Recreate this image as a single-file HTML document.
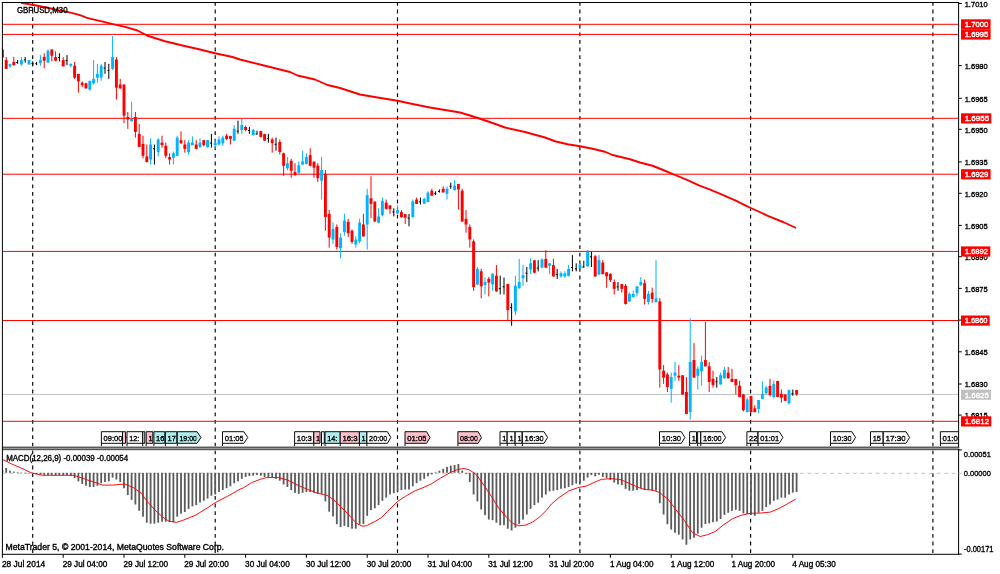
<!DOCTYPE html>
<html><head><meta charset="utf-8"><title>GBPUSD M30</title>
<style>html,body{margin:0;padding:0;background:#fff;}body{width:1000px;height:574px;overflow:hidden;position:relative;font-family:"Liberation Sans",sans-serif;}</style></head>
<body>
<svg width="1000" height="574" viewBox="0 0 1000 574" style="position:absolute;left:0;top:0;will-change:transform">
<rect x="0" y="0" width="1000" height="574" fill="#ffffff"/>
<defs><clipPath id="cm"><rect x="2.4" y="2.4" width="956.2" height="444"/></clipPath><clipPath id="cs"><rect x="2.4" y="449.5" width="956.2" height="104.8"/></clipPath></defs>
<line x1="32.7" y1="2.0" x2="32.7" y2="554" stroke="#000" stroke-width="1.15" stroke-dasharray="3.8 3.8"/>
<line x1="215.2" y1="2.0" x2="215.2" y2="554" stroke="#000" stroke-width="1.15" stroke-dasharray="3.8 3.8"/>
<line x1="397.5" y1="2.0" x2="397.5" y2="554" stroke="#000" stroke-width="1.15" stroke-dasharray="3.8 3.8"/>
<line x1="579.9" y1="2.0" x2="579.9" y2="554" stroke="#000" stroke-width="1.15" stroke-dasharray="3.8 3.8"/>
<line x1="750.6" y1="2.0" x2="750.6" y2="554" stroke="#000" stroke-width="1.15" stroke-dasharray="3.8 3.8"/>
<line x1="932.9" y1="2.0" x2="932.9" y2="554" stroke="#000" stroke-width="1.15" stroke-dasharray="3.8 3.8"/>
<line x1="2.4" y1="394.4" x2="958.6" y2="394.4" stroke="#c0c0c0" stroke-width="1"/>
<line x1="2.4" y1="24.3" x2="958.6" y2="24.3" stroke="#ff0000" stroke-width="1"/>
<line x1="2.4" y1="34.4" x2="958.6" y2="34.4" stroke="#ff0000" stroke-width="1"/>
<line x1="2.4" y1="118.3" x2="958.6" y2="118.3" stroke="#ff0000" stroke-width="1"/>
<line x1="2.4" y1="174.2" x2="958.6" y2="174.2" stroke="#ff0000" stroke-width="1"/>
<line x1="2.4" y1="251.4" x2="958.6" y2="251.4" stroke="#ff0000" stroke-width="1"/>
<line x1="2.4" y1="320.5" x2="958.6" y2="320.5" stroke="#ff0000" stroke-width="1"/>
<line x1="2.4" y1="421.3" x2="958.6" y2="421.3" stroke="#ff0000" stroke-width="1"/>
<path d="M21.00,2.80 L35.10,5.20 L48.90,8.00 L60.00,10.80 L66.30,11.60 L72.50,13.20 L80.70,15.40 L86.30,17.70 L92.00,19.10 L103.90,21.90 L112.70,24.10 L125.00,26.90 L137.50,30.50 L147.50,35.75 L165.00,41.25 L182.50,45.50 L200.00,49.50 L215.00,53.25 L232.50,57.00 L240.00,59.50 L265.00,65.75 L290.00,72.00 L297.50,75.50 L315.00,79.50 L327.50,85.00 L340.00,88.00 L360.00,94.50 L377.50,97.50 L397.50,100.75 L415.00,104.50 L430.00,107.50 L445.00,110.00 L460.00,112.50 L470.00,115.50 L480.00,118.75 L492.50,123.00 L505.00,127.50 L525.00,132.00 L545.00,137.50 L555.00,141.25 L567.50,144.25 L580.00,146.25 L592.50,148.75 L605.00,151.75 L612.50,155.00 L630.00,159.25 L640.00,162.50 L652.50,165.75 L665.00,170.75 L675.00,175.00 L686.40,179.60 L698.90,185.40 L710.20,189.60 L722.60,194.90 L735.30,200.30 L745.30,205.30 L750.80,208.00 L767.90,215.80 L783.60,222.25 L796.10,228.00" fill="none" stroke="#ff0000" stroke-width="1.9" stroke-linejoin="round" clip-path="url(#cm)"/>
<g clip-path="url(#cm)">
<rect x="1.90" y="49.43" width="1" height="8.15" fill="#ff0000"/>
<rect x="0.95" y="49.43" width="2.9" height="8.15" fill="#ff0000"/>
<rect x="5.70" y="56.96" width="1" height="11.91" fill="#ff0000"/>
<rect x="4.75" y="60.09" width="2.9" height="8.78" fill="#ff0000"/>
<rect x="9.50" y="63.60" width="1" height="4.26" fill="#00b4ff"/>
<rect x="8.55" y="64.10" width="2.9" height="2.26" fill="#00b4ff"/>
<rect x="13.30" y="56.96" width="1" height="8.78" fill="#ff0000"/>
<rect x="12.35" y="61.97" width="2.9" height="3.13" fill="#ff0000"/>
<rect x="17.10" y="60.09" width="1" height="3.76" fill="#000000"/>
<rect x="16.15" y="61.97" width="1.9" height="0.95" fill="#000000"/>
<rect x="20.90" y="56.96" width="1" height="8.78" fill="#00b4ff"/>
<rect x="19.95" y="60.09" width="2.9" height="4.39" fill="#00b4ff"/>
<rect x="24.70" y="56.96" width="1" height="5.64" fill="#000000"/>
<rect x="23.75" y="59.46" width="1.9" height="0.95" fill="#000000"/>
<rect x="28.50" y="59.84" width="1" height="4.89" fill="#00b4ff"/>
<rect x="27.55" y="60.09" width="2.9" height="4.39" fill="#00b4ff"/>
<rect x="32.30" y="61.34" width="1" height="3.76" fill="#000000"/>
<rect x="31.35" y="62.85" width="1.9" height="0.95" fill="#000000"/>
<rect x="36.10" y="61.97" width="1" height="3.13" fill="#000000"/>
<rect x="35.15" y="63.22" width="1.9" height="0.95" fill="#000000"/>
<rect x="39.90" y="55.08" width="1" height="10.66" fill="#00b4ff"/>
<rect x="38.95" y="60.09" width="2.9" height="3.13" fill="#00b4ff"/>
<rect x="43.70" y="53.19" width="1" height="15.05" fill="#ff0000"/>
<rect x="42.75" y="56.96" width="2.9" height="3.76" fill="#ff0000"/>
<rect x="47.50" y="49.43" width="1" height="13.16" fill="#00b4ff"/>
<rect x="46.55" y="50.69" width="2.9" height="11.91" fill="#00b4ff"/>
<rect x="51.30" y="49.43" width="1" height="11.91" fill="#ff0000"/>
<rect x="50.35" y="49.43" width="2.9" height="6.27" fill="#ff0000"/>
<rect x="55.10" y="51.31" width="1" height="10.03" fill="#ff0000"/>
<rect x="54.15" y="56.96" width="2.9" height="3.76" fill="#ff0000"/>
<rect x="58.90" y="53.19" width="1" height="8.15" fill="#000000"/>
<rect x="57.95" y="56.96" width="1.9" height="0.95" fill="#000000"/>
<rect x="62.70" y="56.96" width="1" height="9.40" fill="#ff0000"/>
<rect x="61.75" y="60.09" width="2.9" height="6.27" fill="#ff0000"/>
<rect x="66.50" y="55.08" width="1" height="10.03" fill="#000000"/>
<rect x="65.55" y="60.09" width="1.9" height="0.95" fill="#000000"/>
<rect x="70.30" y="63.60" width="1" height="4.01" fill="#00b4ff"/>
<rect x="69.35" y="63.85" width="2.9" height="1.88" fill="#00b4ff"/>
<rect x="74.10" y="61.97" width="1" height="16.93" fill="#ff0000"/>
<rect x="73.15" y="65.73" width="2.9" height="11.91" fill="#ff0000"/>
<rect x="77.90" y="73.88" width="1" height="18.81" fill="#ff0000"/>
<rect x="76.95" y="73.88" width="2.9" height="7.52" fill="#ff0000"/>
<rect x="81.70" y="81.40" width="1" height="5.64" fill="#ff0000"/>
<rect x="80.75" y="82.66" width="2.9" height="2.51" fill="#ff0000"/>
<rect x="85.50" y="82.66" width="1" height="6.27" fill="#ff0000"/>
<rect x="84.55" y="83.28" width="2.9" height="5.02" fill="#ff0000"/>
<rect x="89.30" y="80.78" width="1" height="10.03" fill="#00b4ff"/>
<rect x="88.35" y="80.78" width="2.9" height="8.78" fill="#00b4ff"/>
<rect x="93.10" y="60.09" width="1" height="24.45" fill="#00b4ff"/>
<rect x="92.15" y="78.90" width="2.9" height="4.39" fill="#00b4ff"/>
<rect x="96.90" y="63.85" width="1" height="18.81" fill="#00b4ff"/>
<rect x="95.95" y="73.88" width="2.9" height="3.76" fill="#00b4ff"/>
<rect x="100.70" y="63.85" width="1" height="16.93" fill="#00b4ff"/>
<rect x="99.75" y="65.73" width="2.9" height="11.91" fill="#00b4ff"/>
<rect x="104.50" y="61.97" width="1" height="11.91" fill="#000000"/>
<rect x="103.55" y="67.61" width="1.9" height="0.95" fill="#000000"/>
<rect x="108.30" y="63.85" width="1" height="15.05" fill="#000000"/>
<rect x="107.35" y="69.87" width="1.9" height="0.95" fill="#000000"/>
<rect x="112.10" y="36.02" width="1" height="34.10" fill="#00b4ff"/>
<rect x="111.15" y="56.96" width="2.9" height="11.91" fill="#00b4ff"/>
<rect x="115.90" y="56.96" width="1" height="42.63" fill="#ff0000"/>
<rect x="114.95" y="59.46" width="2.9" height="28.21" fill="#ff0000"/>
<rect x="119.70" y="78.90" width="1" height="10.03" fill="#ff0000"/>
<rect x="118.75" y="84.54" width="2.9" height="3.76" fill="#ff0000"/>
<rect x="123.50" y="84.47" width="1" height="38.74" fill="#ff0000"/>
<rect x="122.55" y="84.47" width="2.9" height="31.22" fill="#ff0000"/>
<rect x="127.30" y="111.93" width="1" height="16.93" fill="#ff0000"/>
<rect x="126.35" y="116.94" width="2.9" height="2.51" fill="#ff0000"/>
<rect x="131.10" y="101.90" width="1" height="19.68" fill="#00b4ff"/>
<rect x="130.15" y="118.82" width="2.9" height="2.51" fill="#00b4ff"/>
<rect x="134.90" y="111.93" width="1" height="25.70" fill="#ff0000"/>
<rect x="133.95" y="116.94" width="2.9" height="15.05" fill="#ff0000"/>
<rect x="138.70" y="123.84" width="1" height="23.19" fill="#ff0000"/>
<rect x="137.75" y="133.87" width="2.9" height="13.16" fill="#ff0000"/>
<rect x="142.50" y="135.75" width="1" height="22.57" fill="#ff0000"/>
<rect x="141.55" y="143.90" width="2.9" height="11.91" fill="#ff0000"/>
<rect x="146.30" y="144.52" width="1" height="17.80" fill="#ff0000"/>
<rect x="145.35" y="156.43" width="2.9" height="5.64" fill="#ff0000"/>
<rect x="150.10" y="138.25" width="1" height="26.33" fill="#00b4ff"/>
<rect x="149.15" y="144.52" width="2.9" height="15.05" fill="#00b4ff"/>
<rect x="153.90" y="144.52" width="1" height="20.06" fill="#000000"/>
<rect x="152.95" y="148.28" width="1.9" height="0.95" fill="#000000"/>
<rect x="157.70" y="138.25" width="1" height="18.18" fill="#00b4ff"/>
<rect x="156.75" y="139.51" width="2.9" height="12.54" fill="#00b4ff"/>
<rect x="161.50" y="135.75" width="1" height="11.91" fill="#ff0000"/>
<rect x="160.55" y="142.64" width="2.9" height="2.51" fill="#ff0000"/>
<rect x="165.30" y="142.64" width="1" height="15.67" fill="#ff0000"/>
<rect x="164.35" y="145.78" width="2.9" height="10.03" fill="#ff0000"/>
<rect x="169.10" y="153.30" width="1" height="11.28" fill="#ff0000"/>
<rect x="168.15" y="157.06" width="2.9" height="2.51" fill="#ff0000"/>
<rect x="172.90" y="151.42" width="1" height="13.16" fill="#00b4ff"/>
<rect x="171.95" y="153.30" width="2.9" height="4.39" fill="#00b4ff"/>
<rect x="176.70" y="135.75" width="1" height="20.31" fill="#00b4ff"/>
<rect x="175.75" y="137.63" width="2.9" height="18.18" fill="#00b4ff"/>
<rect x="180.50" y="131.36" width="1" height="12.54" fill="#ff0000"/>
<rect x="179.55" y="140.14" width="2.9" height="3.13" fill="#ff0000"/>
<rect x="184.30" y="140.14" width="1" height="12.54" fill="#ff0000"/>
<rect x="183.35" y="144.52" width="2.9" height="4.39" fill="#ff0000"/>
<rect x="188.10" y="140.14" width="1" height="14.42" fill="#00b4ff"/>
<rect x="187.15" y="142.64" width="2.9" height="9.40" fill="#00b4ff"/>
<rect x="191.90" y="136.37" width="1" height="9.03" fill="#00b4ff"/>
<rect x="190.95" y="142.64" width="2.9" height="2.51" fill="#00b4ff"/>
<rect x="195.70" y="140.14" width="1" height="9.03" fill="#ff0000"/>
<rect x="194.75" y="144.52" width="2.9" height="4.39" fill="#ff0000"/>
<rect x="199.50" y="138.25" width="1" height="9.40" fill="#00b4ff"/>
<rect x="198.55" y="142.64" width="2.9" height="4.39" fill="#00b4ff"/>
<rect x="203.30" y="139.88" width="1" height="6.52" fill="#ff0000"/>
<rect x="202.35" y="140.14" width="2.9" height="5.02" fill="#ff0000"/>
<rect x="207.10" y="139.88" width="1" height="7.77" fill="#00b4ff"/>
<rect x="206.15" y="140.14" width="2.9" height="6.90" fill="#00b4ff"/>
<rect x="210.90" y="133.87" width="1" height="13.79" fill="#000000"/>
<rect x="209.95" y="142.64" width="1.9" height="0.95" fill="#000000"/>
<rect x="214.70" y="138.88" width="1" height="10.03" fill="#00b4ff"/>
<rect x="213.75" y="142.64" width="2.9" height="2.51" fill="#00b4ff"/>
<rect x="218.50" y="136.37" width="1" height="8.78" fill="#00b4ff"/>
<rect x="217.55" y="139.51" width="2.9" height="5.02" fill="#00b4ff"/>
<rect x="222.30" y="135.75" width="1" height="10.03" fill="#00b4ff"/>
<rect x="221.35" y="137.63" width="2.9" height="5.64" fill="#00b4ff"/>
<rect x="226.10" y="133.87" width="1" height="6.27" fill="#ff0000"/>
<rect x="225.15" y="135.75" width="2.9" height="3.13" fill="#ff0000"/>
<rect x="229.90" y="135.70" width="1" height="8.78" fill="#ff0000"/>
<rect x="228.95" y="136.08" width="2.9" height="2.76" fill="#ff0000"/>
<rect x="233.70" y="125.05" width="1" height="15.92" fill="#00b4ff"/>
<rect x="232.75" y="128.81" width="2.9" height="11.91" fill="#00b4ff"/>
<rect x="237.50" y="120.66" width="1" height="13.16" fill="#000000"/>
<rect x="236.55" y="130.69" width="1.9" height="0.95" fill="#000000"/>
<rect x="241.30" y="118.78" width="1" height="15.05" fill="#00b4ff"/>
<rect x="240.35" y="125.05" width="2.9" height="5.02" fill="#00b4ff"/>
<rect x="245.10" y="125.67" width="1" height="5.64" fill="#ff0000"/>
<rect x="244.15" y="126.93" width="2.9" height="3.13" fill="#ff0000"/>
<rect x="248.90" y="126.93" width="1" height="6.90" fill="#000000"/>
<rect x="247.95" y="130.06" width="1.9" height="0.95" fill="#000000"/>
<rect x="252.70" y="128.81" width="1" height="6.90" fill="#00b4ff"/>
<rect x="251.75" y="130.06" width="2.9" height="5.02" fill="#00b4ff"/>
<rect x="256.50" y="130.69" width="1" height="3.76" fill="#000000"/>
<rect x="255.55" y="133.57" width="1.9" height="0.95" fill="#000000"/>
<rect x="260.30" y="130.69" width="1" height="6.90" fill="#ff0000"/>
<rect x="259.35" y="131.06" width="2.9" height="5.89" fill="#ff0000"/>
<rect x="264.10" y="133.82" width="1" height="7.15" fill="#ff0000"/>
<rect x="263.15" y="134.07" width="2.9" height="6.64" fill="#ff0000"/>
<rect x="267.90" y="133.82" width="1" height="8.78" fill="#000000"/>
<rect x="266.95" y="138.21" width="1.9" height="0.95" fill="#000000"/>
<rect x="271.70" y="137.58" width="1" height="15.05" fill="#ff0000"/>
<rect x="270.75" y="139.46" width="2.9" height="3.76" fill="#ff0000"/>
<rect x="275.50" y="137.58" width="1" height="13.16" fill="#000000"/>
<rect x="274.55" y="143.85" width="1.9" height="0.95" fill="#000000"/>
<rect x="279.30" y="139.46" width="1" height="15.05" fill="#ff0000"/>
<rect x="278.35" y="141.97" width="2.9" height="10.03" fill="#ff0000"/>
<rect x="283.10" y="152.63" width="1" height="23.19" fill="#ff0000"/>
<rect x="282.15" y="153.25" width="2.9" height="12.54" fill="#ff0000"/>
<rect x="286.90" y="157.02" width="1" height="13.16" fill="#00b4ff"/>
<rect x="285.95" y="163.28" width="2.9" height="5.02" fill="#00b4ff"/>
<rect x="290.70" y="158.90" width="1" height="18.81" fill="#ff0000"/>
<rect x="289.75" y="160.78" width="2.9" height="10.03" fill="#ff0000"/>
<rect x="294.50" y="163.28" width="1" height="12.54" fill="#ff0000"/>
<rect x="293.55" y="172.06" width="2.9" height="3.13" fill="#ff0000"/>
<rect x="298.30" y="161.40" width="1" height="12.54" fill="#00b4ff"/>
<rect x="297.35" y="165.17" width="2.9" height="7.52" fill="#00b4ff"/>
<rect x="302.10" y="150.75" width="1" height="14.42" fill="#00b4ff"/>
<rect x="301.15" y="161.40" width="2.9" height="3.13" fill="#00b4ff"/>
<rect x="305.90" y="153.25" width="1" height="11.28" fill="#00b4ff"/>
<rect x="304.95" y="157.02" width="2.9" height="6.90" fill="#00b4ff"/>
<rect x="309.70" y="148.24" width="1" height="18.18" fill="#ff0000"/>
<rect x="308.75" y="155.14" width="2.9" height="10.66" fill="#ff0000"/>
<rect x="313.50" y="161.40" width="1" height="16.30" fill="#ff0000"/>
<rect x="312.55" y="161.65" width="2.9" height="6.02" fill="#ff0000"/>
<rect x="317.30" y="163.15" width="1" height="18.81" fill="#ff0000"/>
<rect x="316.35" y="165.66" width="2.9" height="12.54" fill="#ff0000"/>
<rect x="321.10" y="156.88" width="1" height="42.63" fill="#00b4ff"/>
<rect x="320.15" y="170.05" width="2.9" height="10.66" fill="#00b4ff"/>
<rect x="324.90" y="170.04" width="1" height="60.68" fill="#ff0000"/>
<rect x="323.95" y="173.80" width="2.9" height="43.13" fill="#ff0000"/>
<rect x="328.70" y="210.03" width="1" height="37.61" fill="#ff0000"/>
<rect x="327.75" y="213.79" width="2.9" height="23.82" fill="#ff0000"/>
<rect x="332.50" y="222.57" width="1" height="21.31" fill="#00b4ff"/>
<rect x="331.55" y="228.84" width="2.9" height="10.66" fill="#00b4ff"/>
<rect x="336.30" y="224.45" width="1" height="25.08" fill="#ff0000"/>
<rect x="335.35" y="226.96" width="2.9" height="20.06" fill="#ff0000"/>
<rect x="340.10" y="233.22" width="1" height="25.08" fill="#00b4ff"/>
<rect x="339.15" y="237.61" width="2.9" height="10.66" fill="#00b4ff"/>
<rect x="343.90" y="213.79" width="1" height="21.94" fill="#00b4ff"/>
<rect x="342.95" y="220.69" width="2.9" height="11.28" fill="#00b4ff"/>
<rect x="347.70" y="218.81" width="1" height="18.18" fill="#ff0000"/>
<rect x="346.75" y="221.94" width="2.9" height="11.28" fill="#ff0000"/>
<rect x="351.50" y="229.46" width="1" height="14.42" fill="#ff0000"/>
<rect x="350.55" y="230.72" width="2.9" height="11.28" fill="#ff0000"/>
<rect x="355.30" y="236.36" width="1" height="11.28" fill="#00b4ff"/>
<rect x="354.35" y="239.49" width="2.9" height="5.02" fill="#00b4ff"/>
<rect x="359.10" y="218.81" width="1" height="24.45" fill="#00b4ff"/>
<rect x="358.15" y="222.57" width="2.9" height="18.81" fill="#00b4ff"/>
<rect x="362.90" y="213.79" width="1" height="22.82" fill="#ff0000"/>
<rect x="361.95" y="224.45" width="2.9" height="11.91" fill="#ff0000"/>
<rect x="366.70" y="188.85" width="1" height="60.65" fill="#00b4ff"/>
<rect x="365.75" y="195.12" width="2.9" height="29.46" fill="#00b4ff"/>
<rect x="370.50" y="176.31" width="1" height="42.00" fill="#ff0000"/>
<rect x="369.55" y="198.25" width="2.9" height="5.64" fill="#ff0000"/>
<rect x="374.30" y="201.39" width="1" height="20.69" fill="#ff0000"/>
<rect x="373.35" y="201.64" width="2.9" height="19.81" fill="#ff0000"/>
<rect x="378.10" y="208.28" width="1" height="15.05" fill="#00b4ff"/>
<rect x="377.15" y="216.43" width="2.9" height="6.27" fill="#00b4ff"/>
<rect x="381.90" y="197.63" width="1" height="18.81" fill="#00b4ff"/>
<rect x="380.95" y="200.76" width="2.9" height="14.42" fill="#00b4ff"/>
<rect x="385.70" y="199.51" width="1" height="10.03" fill="#ff0000"/>
<rect x="384.75" y="202.64" width="2.9" height="6.27" fill="#ff0000"/>
<rect x="389.50" y="205.15" width="1" height="8.78" fill="#ff0000"/>
<rect x="388.55" y="205.40" width="2.9" height="3.51" fill="#ff0000"/>
<rect x="393.30" y="208.28" width="1" height="8.15" fill="#000000"/>
<rect x="392.35" y="211.42" width="1.9" height="0.95" fill="#000000"/>
<rect x="397.10" y="205.15" width="1" height="8.78" fill="#00b4ff"/>
<rect x="396.15" y="210.17" width="2.9" height="3.13" fill="#00b4ff"/>
<rect x="400.90" y="210.17" width="1" height="7.52" fill="#ff0000"/>
<rect x="399.95" y="212.05" width="2.9" height="5.02" fill="#ff0000"/>
<rect x="404.70" y="213.93" width="1" height="10.03" fill="#ff0000"/>
<rect x="403.75" y="214.18" width="2.9" height="3.51" fill="#ff0000"/>
<rect x="408.50" y="213.93" width="1" height="12.37" fill="#000000"/>
<rect x="407.55" y="217.69" width="1.9" height="0.95" fill="#000000"/>
<rect x="412.30" y="199.51" width="1" height="18.81" fill="#00b4ff"/>
<rect x="411.35" y="201.39" width="2.9" height="15.67" fill="#00b4ff"/>
<rect x="416.10" y="197.63" width="1" height="6.52" fill="#ff0000"/>
<rect x="415.15" y="199.51" width="2.9" height="4.39" fill="#ff0000"/>
<rect x="419.90" y="197.63" width="1" height="6.90" fill="#000000"/>
<rect x="418.95" y="201.39" width="1.9" height="0.95" fill="#000000"/>
<rect x="423.70" y="197.63" width="1" height="6.27" fill="#00b4ff"/>
<rect x="422.75" y="198.88" width="2.9" height="4.76" fill="#00b4ff"/>
<rect x="427.50" y="191.36" width="1" height="10.91" fill="#00b4ff"/>
<rect x="426.55" y="192.61" width="2.9" height="9.40" fill="#00b4ff"/>
<rect x="431.30" y="188.82" width="1" height="7.15" fill="#ff0000"/>
<rect x="430.35" y="190.70" width="2.9" height="5.02" fill="#ff0000"/>
<rect x="435.10" y="191.33" width="1" height="3.76" fill="#000000"/>
<rect x="434.15" y="193.21" width="1.9" height="0.95" fill="#000000"/>
<rect x="438.90" y="189.45" width="1" height="3.13" fill="#000000"/>
<rect x="437.95" y="190.95" width="1.9" height="0.95" fill="#000000"/>
<rect x="442.70" y="186.31" width="1" height="6.27" fill="#ff0000"/>
<rect x="441.75" y="188.82" width="2.9" height="3.51" fill="#ff0000"/>
<rect x="446.50" y="186.31" width="1" height="13.16" fill="#00b4ff"/>
<rect x="445.55" y="188.82" width="2.9" height="5.02" fill="#00b4ff"/>
<rect x="450.30" y="182.55" width="1" height="6.27" fill="#000000"/>
<rect x="449.35" y="185.69" width="1.9" height="0.95" fill="#000000"/>
<rect x="454.10" y="180.05" width="1" height="10.66" fill="#00b4ff"/>
<rect x="453.15" y="185.69" width="2.9" height="4.39" fill="#00b4ff"/>
<rect x="457.90" y="183.81" width="1" height="25.70" fill="#ff0000"/>
<rect x="456.95" y="184.06" width="2.9" height="5.39" fill="#ff0000"/>
<rect x="461.70" y="188.82" width="1" height="33.22" fill="#ff0000"/>
<rect x="460.75" y="190.70" width="2.9" height="30.72" fill="#ff0000"/>
<rect x="465.50" y="210.14" width="1" height="22.57" fill="#ff0000"/>
<rect x="464.55" y="218.91" width="2.9" height="5.64" fill="#ff0000"/>
<rect x="469.30" y="224.39" width="1" height="23.19" fill="#ff0000"/>
<rect x="468.35" y="226.90" width="2.9" height="12.54" fill="#ff0000"/>
<rect x="473.10" y="239.43" width="1" height="51.40" fill="#ff0000"/>
<rect x="472.15" y="241.31" width="2.9" height="45.76" fill="#ff0000"/>
<rect x="476.90" y="267.02" width="1" height="17.80" fill="#00b4ff"/>
<rect x="475.95" y="268.90" width="2.9" height="15.67" fill="#00b4ff"/>
<rect x="480.70" y="268.76" width="1" height="29.46" fill="#ff0000"/>
<rect x="479.75" y="271.27" width="2.9" height="15.05" fill="#ff0000"/>
<rect x="484.50" y="277.54" width="1" height="16.93" fill="#00b4ff"/>
<rect x="483.55" y="281.93" width="2.9" height="3.13" fill="#00b4ff"/>
<rect x="488.30" y="276.91" width="1" height="19.43" fill="#ff0000"/>
<rect x="487.35" y="278.79" width="2.9" height="3.76" fill="#ff0000"/>
<rect x="492.10" y="273.15" width="1" height="17.55" fill="#00b4ff"/>
<rect x="491.15" y="273.78" width="2.9" height="10.66" fill="#00b4ff"/>
<rect x="495.90" y="265.00" width="1" height="26.96" fill="#ff0000"/>
<rect x="494.95" y="275.66" width="2.9" height="15.67" fill="#ff0000"/>
<rect x="499.70" y="275.66" width="1" height="18.81" fill="#000000"/>
<rect x="498.75" y="288.19" width="1.9" height="0.95" fill="#000000"/>
<rect x="503.50" y="277.54" width="1" height="16.93" fill="#000000"/>
<rect x="502.55" y="286.31" width="1.9" height="0.95" fill="#000000"/>
<rect x="507.30" y="283.81" width="1" height="36.36" fill="#ff0000"/>
<rect x="506.35" y="284.06" width="2.9" height="26.08" fill="#ff0000"/>
<rect x="511.10" y="303.24" width="1" height="22.57" fill="#000000"/>
<rect x="510.15" y="307.00" width="1.9" height="0.95" fill="#000000"/>
<rect x="514.90" y="275.66" width="1" height="39.49" fill="#00b4ff"/>
<rect x="513.95" y="285.69" width="2.9" height="25.70" fill="#00b4ff"/>
<rect x="518.70" y="258.87" width="1" height="29.71" fill="#00b4ff"/>
<rect x="517.75" y="282.06" width="2.9" height="6.27" fill="#00b4ff"/>
<rect x="522.50" y="265.14" width="1" height="20.69" fill="#00b4ff"/>
<rect x="521.55" y="275.17" width="2.9" height="3.13" fill="#00b4ff"/>
<rect x="526.30" y="267.02" width="1" height="15.05" fill="#000000"/>
<rect x="525.35" y="272.66" width="1.9" height="0.95" fill="#000000"/>
<rect x="530.10" y="258.24" width="1" height="15.67" fill="#00b4ff"/>
<rect x="529.15" y="263.25" width="2.9" height="6.27" fill="#00b4ff"/>
<rect x="533.90" y="260.12" width="1" height="13.16" fill="#ff0000"/>
<rect x="532.95" y="260.37" width="2.9" height="12.29" fill="#ff0000"/>
<rect x="537.70" y="260.12" width="1" height="11.28" fill="#000000"/>
<rect x="536.75" y="267.64" width="1.9" height="0.95" fill="#000000"/>
<rect x="541.50" y="258.24" width="1" height="10.03" fill="#00b4ff"/>
<rect x="540.55" y="259.49" width="2.9" height="8.15" fill="#00b4ff"/>
<rect x="545.30" y="250.09" width="1" height="17.80" fill="#ff0000"/>
<rect x="544.35" y="258.87" width="2.9" height="8.78" fill="#ff0000"/>
<rect x="549.10" y="263.25" width="1" height="10.66" fill="#00b4ff"/>
<rect x="548.15" y="263.25" width="2.9" height="2.51" fill="#00b4ff"/>
<rect x="552.90" y="258.87" width="1" height="17.80" fill="#ff0000"/>
<rect x="551.95" y="265.14" width="2.9" height="11.28" fill="#ff0000"/>
<rect x="556.70" y="268.90" width="1" height="10.03" fill="#000000"/>
<rect x="555.75" y="273.91" width="1.9" height="0.95" fill="#000000"/>
<rect x="560.50" y="271.40" width="1" height="6.27" fill="#00b4ff"/>
<rect x="559.55" y="273.28" width="2.9" height="3.13" fill="#00b4ff"/>
<rect x="564.30" y="271.40" width="1" height="6.27" fill="#00b4ff"/>
<rect x="563.35" y="273.28" width="2.9" height="3.13" fill="#00b4ff"/>
<rect x="568.10" y="265.14" width="1" height="11.28" fill="#00b4ff"/>
<rect x="567.15" y="268.90" width="2.9" height="6.90" fill="#00b4ff"/>
<rect x="571.90" y="255.11" width="1" height="16.30" fill="#000000"/>
<rect x="570.95" y="267.02" width="1.9" height="0.95" fill="#000000"/>
<rect x="575.70" y="263.25" width="1" height="8.15" fill="#000000"/>
<rect x="574.75" y="268.27" width="1.9" height="0.95" fill="#000000"/>
<rect x="579.50" y="263.19" width="1" height="5.64" fill="#00b4ff"/>
<rect x="578.55" y="264.45" width="2.9" height="3.76" fill="#00b4ff"/>
<rect x="583.30" y="260.69" width="1" height="6.90" fill="#000000"/>
<rect x="582.35" y="266.58" width="1.9" height="0.95" fill="#000000"/>
<rect x="587.10" y="250.03" width="1" height="16.93" fill="#00b4ff"/>
<rect x="586.15" y="251.91" width="2.9" height="14.42" fill="#00b4ff"/>
<rect x="590.90" y="251.91" width="1" height="15.05" fill="#000000"/>
<rect x="589.95" y="256.30" width="1.9" height="0.95" fill="#000000"/>
<rect x="594.70" y="255.05" width="1" height="21.94" fill="#ff0000"/>
<rect x="593.75" y="256.30" width="2.9" height="20.06" fill="#ff0000"/>
<rect x="598.50" y="255.05" width="1" height="20.06" fill="#00b4ff"/>
<rect x="597.55" y="260.06" width="2.9" height="14.42" fill="#00b4ff"/>
<rect x="602.30" y="260.06" width="1" height="14.42" fill="#ff0000"/>
<rect x="601.35" y="262.57" width="2.9" height="11.53" fill="#ff0000"/>
<rect x="606.10" y="271.97" width="1" height="15.67" fill="#ff0000"/>
<rect x="605.15" y="272.35" width="2.9" height="4.01" fill="#ff0000"/>
<rect x="609.90" y="273.22" width="1" height="8.78" fill="#ff0000"/>
<rect x="608.95" y="273.85" width="2.9" height="6.27" fill="#ff0000"/>
<rect x="613.70" y="279.49" width="1" height="15.05" fill="#ff0000"/>
<rect x="612.75" y="282.00" width="2.9" height="6.90" fill="#ff0000"/>
<rect x="617.50" y="282.00" width="1" height="8.78" fill="#000000"/>
<rect x="616.55" y="286.39" width="1.9" height="0.95" fill="#000000"/>
<rect x="621.30" y="283.88" width="1" height="8.78" fill="#ff0000"/>
<rect x="620.35" y="284.13" width="2.9" height="4.76" fill="#ff0000"/>
<rect x="625.10" y="283.88" width="1" height="20.69" fill="#ff0000"/>
<rect x="624.15" y="285.76" width="2.9" height="18.18" fill="#ff0000"/>
<rect x="628.90" y="292.66" width="1" height="9.40" fill="#00b4ff"/>
<rect x="627.95" y="293.91" width="2.9" height="7.52" fill="#00b4ff"/>
<rect x="632.70" y="290.78" width="1" height="6.52" fill="#00b4ff"/>
<rect x="631.75" y="293.91" width="2.9" height="3.13" fill="#00b4ff"/>
<rect x="636.50" y="285.76" width="1" height="10.66" fill="#00b4ff"/>
<rect x="635.55" y="286.39" width="2.9" height="6.90" fill="#00b4ff"/>
<rect x="640.30" y="276.99" width="1" height="8.78" fill="#00b4ff"/>
<rect x="639.35" y="282.00" width="2.9" height="3.13" fill="#00b4ff"/>
<rect x="644.10" y="279.49" width="1" height="25.08" fill="#ff0000"/>
<rect x="643.15" y="283.25" width="2.9" height="15.67" fill="#ff0000"/>
<rect x="647.90" y="290.78" width="1" height="13.79" fill="#00b4ff"/>
<rect x="646.95" y="293.91" width="2.9" height="8.15" fill="#00b4ff"/>
<rect x="651.70" y="287.64" width="1" height="15.05" fill="#ff0000"/>
<rect x="650.75" y="292.66" width="2.9" height="6.27" fill="#ff0000"/>
<rect x="655.50" y="260.06" width="1" height="42.63" fill="#00b4ff"/>
<rect x="654.55" y="298.30" width="2.9" height="3.76" fill="#00b4ff"/>
<rect x="659.30" y="298.09" width="1" height="89.52" fill="#ff0000"/>
<rect x="658.35" y="301.35" width="2.9" height="68.08" fill="#ff0000"/>
<rect x="663.10" y="365.05" width="1" height="18.81" fill="#ff0000"/>
<rect x="662.15" y="370.69" width="2.9" height="6.90" fill="#ff0000"/>
<rect x="666.90" y="372.57" width="1" height="19.43" fill="#ff0000"/>
<rect x="665.95" y="374.45" width="2.9" height="12.54" fill="#ff0000"/>
<rect x="670.70" y="372.57" width="1" height="30.09" fill="#00b4ff"/>
<rect x="669.75" y="376.96" width="2.9" height="11.91" fill="#00b4ff"/>
<rect x="674.50" y="361.91" width="1" height="18.81" fill="#00b4ff"/>
<rect x="673.55" y="372.57" width="2.9" height="3.13" fill="#00b4ff"/>
<rect x="678.30" y="365.05" width="1" height="15.67" fill="#ff0000"/>
<rect x="677.35" y="375.70" width="2.9" height="1.88" fill="#ff0000"/>
<rect x="682.10" y="375.08" width="1" height="19.68" fill="#ff0000"/>
<rect x="681.15" y="375.33" width="2.9" height="19.18" fill="#ff0000"/>
<rect x="685.90" y="376.96" width="1" height="37.24" fill="#ff0000"/>
<rect x="684.95" y="392.00" width="2.9" height="21.94" fill="#ff0000"/>
<rect x="689.70" y="318.15" width="1" height="101.43" fill="#00b4ff"/>
<rect x="688.75" y="361.91" width="2.9" height="50.15" fill="#00b4ff"/>
<rect x="693.50" y="343.10" width="1" height="34.73" fill="#ff0000"/>
<rect x="692.55" y="360.03" width="2.9" height="17.55" fill="#ff0000"/>
<rect x="697.30" y="366.30" width="1" height="23.19" fill="#00b4ff"/>
<rect x="696.35" y="368.81" width="2.9" height="6.90" fill="#00b4ff"/>
<rect x="701.10" y="355.64" width="1" height="30.09" fill="#00b4ff"/>
<rect x="700.15" y="361.91" width="2.9" height="9.40" fill="#00b4ff"/>
<rect x="704.90" y="321.92" width="1" height="44.63" fill="#ff0000"/>
<rect x="703.95" y="360.03" width="2.9" height="6.27" fill="#ff0000"/>
<rect x="708.70" y="361.91" width="1" height="30.09" fill="#ff0000"/>
<rect x="707.75" y="366.30" width="2.9" height="15.67" fill="#ff0000"/>
<rect x="712.50" y="370.69" width="1" height="16.93" fill="#ff0000"/>
<rect x="711.55" y="378.84" width="2.9" height="6.27" fill="#ff0000"/>
<rect x="716.30" y="376.96" width="1" height="10.66" fill="#000000"/>
<rect x="715.35" y="381.34" width="1.9" height="0.95" fill="#000000"/>
<rect x="720.10" y="372.57" width="1" height="12.16" fill="#00b4ff"/>
<rect x="719.15" y="375.08" width="2.9" height="9.40" fill="#00b4ff"/>
<rect x="723.90" y="366.93" width="1" height="11.91" fill="#00b4ff"/>
<rect x="722.95" y="370.06" width="2.9" height="8.15" fill="#00b4ff"/>
<rect x="727.70" y="366.93" width="1" height="11.91" fill="#ff0000"/>
<rect x="726.75" y="372.57" width="2.9" height="5.64" fill="#ff0000"/>
<rect x="731.50" y="368.81" width="1" height="13.42" fill="#ff0000"/>
<rect x="730.55" y="378.84" width="2.9" height="3.13" fill="#ff0000"/>
<rect x="735.30" y="378.84" width="1" height="15.67" fill="#ff0000"/>
<rect x="734.35" y="379.09" width="2.9" height="6.02" fill="#ff0000"/>
<rect x="739.10" y="380.72" width="1" height="16.55" fill="#ff0000"/>
<rect x="738.15" y="385.73" width="2.9" height="11.28" fill="#ff0000"/>
<rect x="742.90" y="393.88" width="1" height="17.55" fill="#ff0000"/>
<rect x="741.95" y="394.51" width="2.9" height="15.67" fill="#ff0000"/>
<rect x="746.70" y="397.64" width="1" height="14.67" fill="#00b4ff"/>
<rect x="745.75" y="399.52" width="2.9" height="12.54" fill="#00b4ff"/>
<rect x="750.50" y="395.76" width="1" height="16.93" fill="#ff0000"/>
<rect x="749.55" y="396.01" width="2.9" height="16.05" fill="#ff0000"/>
<rect x="754.30" y="405.17" width="1" height="7.15" fill="#ff0000"/>
<rect x="753.35" y="408.30" width="2.9" height="3.76" fill="#ff0000"/>
<rect x="758.10" y="399.90" width="1" height="13.42" fill="#00b4ff"/>
<rect x="757.15" y="400.15" width="2.9" height="8.78" fill="#00b4ff"/>
<rect x="761.90" y="381.34" width="1" height="17.80" fill="#00b4ff"/>
<rect x="760.95" y="393.88" width="2.9" height="5.02" fill="#00b4ff"/>
<rect x="765.70" y="385.73" width="1" height="8.78" fill="#00b4ff"/>
<rect x="764.75" y="387.61" width="2.9" height="5.64" fill="#00b4ff"/>
<rect x="769.50" y="378.84" width="1" height="17.55" fill="#ff0000"/>
<rect x="768.55" y="385.73" width="2.9" height="9.40" fill="#ff0000"/>
<rect x="773.30" y="380.72" width="1" height="17.55" fill="#00b4ff"/>
<rect x="772.35" y="383.85" width="2.9" height="13.16" fill="#00b4ff"/>
<rect x="777.10" y="380.72" width="1" height="16.55" fill="#ff0000"/>
<rect x="776.15" y="380.97" width="2.9" height="16.05" fill="#ff0000"/>
<rect x="780.90" y="389.49" width="1" height="13.16" fill="#ff0000"/>
<rect x="779.95" y="393.88" width="2.9" height="3.76" fill="#ff0000"/>
<rect x="784.70" y="394.26" width="1" height="6.77" fill="#ff0000"/>
<rect x="783.75" y="394.51" width="2.9" height="6.27" fill="#ff0000"/>
<rect x="788.50" y="389.49" width="1" height="15.05" fill="#00b4ff"/>
<rect x="787.55" y="390.12" width="2.9" height="13.16" fill="#00b4ff"/>
<rect x="792.30" y="389.49" width="1" height="6.27" fill="#000000"/>
<rect x="791.35" y="393.25" width="1.9" height="0.95" fill="#000000"/>
<rect x="796.10" y="389.87" width="1" height="5.89" fill="#ff0000"/>
<rect x="795.15" y="390.12" width="2.9" height="4.39" fill="#ff0000"/>
</g>
<g clip-path="url(#cm)">
<polygon points="101.4,431.7 122.5,431.7 126.2,437.5 122.5,443.3 101.4,443.3" fill="#ffffff" stroke="#000" stroke-width="0.95"/>
<line x1="101.4" y1="443.3" x2="101.4" y2="446.5" stroke="#000" stroke-width="0.95"/>
<clipPath id="fc0"><rect x="101.4" y="431.7" width="20.60" height="11.600000000000023"/></clipPath>
<text x="103.60" y="440.6" font-family="Liberation Sans, sans-serif" stroke="#000" stroke-width="0.35" font-size="7.9" textLength="18.80" lengthAdjust="spacingAndGlyphs" fill="#000" clip-path="url(#fc0)">09:00</text>
<polygon points="122.5,431.7 125.6,431.7 125.6,443.3 122.5,443.3" fill="#ffc0cb" stroke="#000" stroke-width="0.95"/>
<line x1="122.5" y1="443.3" x2="122.5" y2="446.5" stroke="#000" stroke-width="0.95"/>
<polygon points="127,431.7 142.6,431.7 142.6,443.3 127,443.3" fill="#ffffff" stroke="#000" stroke-width="0.95"/>
<line x1="127" y1="443.3" x2="127" y2="446.5" stroke="#000" stroke-width="0.95"/>
<clipPath id="fc2"><rect x="127" y="431.7" width="15.10" height="11.600000000000023"/></clipPath>
<text x="129.20" y="440.6" font-family="Liberation Sans, sans-serif" stroke="#000" stroke-width="0.35" font-size="7.9" textLength="10.20" lengthAdjust="spacingAndGlyphs" fill="#000" clip-path="url(#fc2)">12:</text>
<polygon points="142.7,431.7 144.8,431.7 144.8,443.3 142.7,443.3" fill="#afeeee" stroke="#000" stroke-width="0.95"/>
<line x1="142.7" y1="443.3" x2="142.7" y2="446.5" stroke="#000" stroke-width="0.95"/>
<polygon points="146.2,431.7 152.8,431.7 152.8,443.3 146.2,443.3" fill="#ffc0cb" stroke="#000" stroke-width="0.95"/>
<line x1="146.2" y1="443.3" x2="146.2" y2="446.5" stroke="#000" stroke-width="0.95"/>
<clipPath id="fc4"><rect x="146.2" y="431.7" width="6.10" height="11.600000000000023"/></clipPath>
<text x="148.40" y="440.6" font-family="Liberation Sans, sans-serif" stroke="#000" stroke-width="0.35" font-size="7.9" textLength="4.15" lengthAdjust="spacingAndGlyphs" fill="#000" clip-path="url(#fc4)">1</text>
<polygon points="153.9,431.7 164.8,431.7 164.8,443.3 153.9,443.3" fill="#afeeee" stroke="#000" stroke-width="0.95"/>
<line x1="153.9" y1="443.3" x2="153.9" y2="446.5" stroke="#000" stroke-width="0.95"/>
<clipPath id="fc5"><rect x="153.9" y="431.7" width="10.40" height="11.600000000000023"/></clipPath>
<text x="156.10" y="440.6" font-family="Liberation Sans, sans-serif" stroke="#000" stroke-width="0.35" font-size="7.9" textLength="8.30" lengthAdjust="spacingAndGlyphs" fill="#000" clip-path="url(#fc5)">16</text>
<polygon points="165.4,431.7 176.8,431.7 176.8,443.3 165.4,443.3" fill="#afeeee" stroke="#000" stroke-width="0.95"/>
<line x1="165.4" y1="443.3" x2="165.4" y2="446.5" stroke="#000" stroke-width="0.95"/>
<clipPath id="fc6"><rect x="165.4" y="431.7" width="10.90" height="11.600000000000023"/></clipPath>
<text x="167.60" y="440.6" font-family="Liberation Sans, sans-serif" stroke="#000" stroke-width="0.35" font-size="7.9" textLength="8.30" lengthAdjust="spacingAndGlyphs" fill="#000" clip-path="url(#fc6)">17</text>
<polygon points="177.3,431.7 197,431.7 201,437.5 197,443.3 177.3,443.3" fill="#afeeee" stroke="#000" stroke-width="0.95"/>
<line x1="177.3" y1="443.3" x2="177.3" y2="446.5" stroke="#000" stroke-width="0.95"/>
<clipPath id="fc7"><rect x="177.3" y="431.7" width="19.20" height="11.600000000000023"/></clipPath>
<text x="179.50" y="440.6" font-family="Liberation Sans, sans-serif" stroke="#000" stroke-width="0.35" font-size="7.9" textLength="17.40" lengthAdjust="spacingAndGlyphs" fill="#000" clip-path="url(#fc7)">19:00</text>
<polygon points="222.5,431.7 243.8,431.7 247.8,437.5 243.8,443.3 222.5,443.3" fill="#ffffff" stroke="#000" stroke-width="0.95"/>
<line x1="222.5" y1="443.3" x2="222.5" y2="446.5" stroke="#000" stroke-width="0.95"/>
<clipPath id="fc8"><rect x="222.5" y="431.7" width="20.80" height="11.600000000000023"/></clipPath>
<text x="224.70" y="440.6" font-family="Liberation Sans, sans-serif" stroke="#000" stroke-width="0.35" font-size="7.9" textLength="19.00" lengthAdjust="spacingAndGlyphs" fill="#000" clip-path="url(#fc8)">01:05</text>
<polygon points="294.6,431.7 313.6,431.7 313.6,443.3 294.6,443.3" fill="#ffffff" stroke="#000" stroke-width="0.95"/>
<line x1="294.6" y1="443.3" x2="294.6" y2="446.5" stroke="#000" stroke-width="0.95"/>
<clipPath id="fc9"><rect x="294.6" y="431.7" width="18.50" height="11.600000000000023"/></clipPath>
<text x="296.80" y="440.6" font-family="Liberation Sans, sans-serif" stroke="#000" stroke-width="0.35" font-size="7.9" textLength="15.15" lengthAdjust="spacingAndGlyphs" fill="#000" clip-path="url(#fc9)">10:3</text>
<polygon points="313.8,431.7 320,431.7 320,443.3 313.8,443.3" fill="#ffc0cb" stroke="#000" stroke-width="0.95"/>
<line x1="313.8" y1="443.3" x2="313.8" y2="446.5" stroke="#000" stroke-width="0.95"/>
<clipPath id="fc10"><rect x="313.8" y="431.7" width="5.70" height="11.600000000000023"/></clipPath>
<text x="316.00" y="440.6" font-family="Liberation Sans, sans-serif" stroke="#000" stroke-width="0.35" font-size="7.9" textLength="4.15" lengthAdjust="spacingAndGlyphs" fill="#000" clip-path="url(#fc10)">1</text>
<polygon points="321.5,431.7 324.3,431.7 324.3,443.3 321.5,443.3" fill="#ffffff" stroke="#000" stroke-width="0.95"/>
<line x1="321.5" y1="443.3" x2="321.5" y2="446.5" stroke="#000" stroke-width="0.95"/>
<polygon points="325,431.7 340.2,431.7 340.2,443.3 325,443.3" fill="#afeeee" stroke="#000" stroke-width="0.95"/>
<line x1="325" y1="443.3" x2="325" y2="446.5" stroke="#000" stroke-width="0.95"/>
<clipPath id="fc12"><rect x="325" y="431.7" width="14.70" height="11.600000000000023"/></clipPath>
<text x="327.20" y="440.6" font-family="Liberation Sans, sans-serif" stroke="#000" stroke-width="0.35" font-size="7.9" textLength="10.20" lengthAdjust="spacingAndGlyphs" fill="#000" clip-path="url(#fc12)">14:</text>
<polygon points="340.2,431.7 359.4,431.7 359.4,443.3 340.2,443.3" fill="#ffc0cb" stroke="#000" stroke-width="0.95"/>
<line x1="340.2" y1="443.3" x2="340.2" y2="446.5" stroke="#000" stroke-width="0.95"/>
<clipPath id="fc13"><rect x="340.2" y="431.7" width="18.70" height="11.600000000000023"/></clipPath>
<text x="342.40" y="440.6" font-family="Liberation Sans, sans-serif" stroke="#000" stroke-width="0.35" font-size="7.9" textLength="15.15" lengthAdjust="spacingAndGlyphs" fill="#000" clip-path="url(#fc13)">16:3</text>
<polygon points="359.4,431.7 366.7,431.7 366.7,443.3 359.4,443.3" fill="#afeeee" stroke="#000" stroke-width="0.95"/>
<line x1="359.4" y1="443.3" x2="359.4" y2="446.5" stroke="#000" stroke-width="0.95"/>
<clipPath id="fc14"><rect x="359.4" y="431.7" width="6.80" height="11.600000000000023"/></clipPath>
<text x="361.60" y="440.6" font-family="Liberation Sans, sans-serif" stroke="#000" stroke-width="0.35" font-size="7.9" textLength="4.15" lengthAdjust="spacingAndGlyphs" fill="#000" clip-path="url(#fc14)">1</text>
<polygon points="366.9,431.7 387.4,431.7 390.8,437.5 387.4,443.3 366.9,443.3" fill="#ffffff" stroke="#000" stroke-width="0.95"/>
<line x1="366.9" y1="443.3" x2="366.9" y2="446.5" stroke="#000" stroke-width="0.95"/>
<clipPath id="fc15"><rect x="366.9" y="431.7" width="20.00" height="11.600000000000023"/></clipPath>
<text x="369.10" y="440.6" font-family="Liberation Sans, sans-serif" stroke="#000" stroke-width="0.35" font-size="7.9" textLength="18.20" lengthAdjust="spacingAndGlyphs" fill="#000" clip-path="url(#fc15)">20:00</text>
<polygon points="405,431.7 426.6,431.7 430,437.5 426.6,443.3 405,443.3" fill="#ffc0cb" stroke="#000" stroke-width="0.95"/>
<line x1="405" y1="443.3" x2="405" y2="446.5" stroke="#000" stroke-width="0.95"/>
<clipPath id="fc16"><rect x="405" y="431.7" width="21.10" height="11.600000000000023"/></clipPath>
<text x="407.20" y="440.6" font-family="Liberation Sans, sans-serif" stroke="#000" stroke-width="0.35" font-size="7.9" textLength="19.30" lengthAdjust="spacingAndGlyphs" fill="#000" clip-path="url(#fc16)">01:05</text>
<polygon points="457.9,431.7 478.1,431.7 481.5,437.5 478.1,443.3 457.9,443.3" fill="#ffc0cb" stroke="#000" stroke-width="0.95"/>
<line x1="457.9" y1="443.3" x2="457.9" y2="446.5" stroke="#000" stroke-width="0.95"/>
<clipPath id="fc17"><rect x="457.9" y="431.7" width="19.70" height="11.600000000000023"/></clipPath>
<text x="460.10" y="440.6" font-family="Liberation Sans, sans-serif" stroke="#000" stroke-width="0.35" font-size="7.9" textLength="17.90" lengthAdjust="spacingAndGlyphs" fill="#000" clip-path="url(#fc17)">08:00</text>
<polygon points="500,431.7 507,431.7 507,443.3 500,443.3" fill="#ffffff" stroke="#000" stroke-width="0.95"/>
<line x1="500" y1="443.3" x2="500" y2="446.5" stroke="#000" stroke-width="0.95"/>
<clipPath id="fc18"><rect x="500" y="431.7" width="6.50" height="11.600000000000023"/></clipPath>
<text x="502.20" y="440.6" font-family="Liberation Sans, sans-serif" stroke="#000" stroke-width="0.35" font-size="7.9" textLength="4.15" lengthAdjust="spacingAndGlyphs" fill="#000" clip-path="url(#fc18)">1</text>
<polygon points="507.2,431.7 514.9,431.7 514.9,443.3 507.2,443.3" fill="#ffffff" stroke="#000" stroke-width="0.95"/>
<line x1="507.2" y1="443.3" x2="507.2" y2="446.5" stroke="#000" stroke-width="0.95"/>
<clipPath id="fc19"><rect x="507.2" y="431.7" width="7.20" height="11.600000000000023"/></clipPath>
<text x="509.40" y="440.6" font-family="Liberation Sans, sans-serif" stroke="#000" stroke-width="0.35" font-size="7.9" textLength="4.15" lengthAdjust="spacingAndGlyphs" fill="#000" clip-path="url(#fc19)">1</text>
<polygon points="515.2,431.7 522,431.7 522,443.3 515.2,443.3" fill="#ffffff" stroke="#000" stroke-width="0.95"/>
<line x1="515.2" y1="443.3" x2="515.2" y2="446.5" stroke="#000" stroke-width="0.95"/>
<clipPath id="fc20"><rect x="515.2" y="431.7" width="6.30" height="11.600000000000023"/></clipPath>
<text x="517.40" y="440.6" font-family="Liberation Sans, sans-serif" stroke="#000" stroke-width="0.35" font-size="7.9" textLength="4.15" lengthAdjust="spacingAndGlyphs" fill="#000" clip-path="url(#fc20)">1</text>
<polygon points="522.4,431.7 544,431.7 547.6,437.5 544,443.3 522.4,443.3" fill="#ffffff" stroke="#000" stroke-width="0.95"/>
<line x1="522.4" y1="443.3" x2="522.4" y2="446.5" stroke="#000" stroke-width="0.95"/>
<clipPath id="fc21"><rect x="522.4" y="431.7" width="21.10" height="11.600000000000023"/></clipPath>
<text x="524.60" y="440.6" font-family="Liberation Sans, sans-serif" stroke="#000" stroke-width="0.35" font-size="7.9" textLength="19.30" lengthAdjust="spacingAndGlyphs" fill="#000" clip-path="url(#fc21)">16:30</text>
<polygon points="659.5,431.7 681.3,431.7 684.9,437.5 681.3,443.3 659.5,443.3" fill="#ffffff" stroke="#000" stroke-width="0.95"/>
<line x1="659.5" y1="443.3" x2="659.5" y2="446.5" stroke="#000" stroke-width="0.95"/>
<clipPath id="fc22"><rect x="659.5" y="431.7" width="21.30" height="11.600000000000023"/></clipPath>
<text x="661.70" y="440.6" font-family="Liberation Sans, sans-serif" stroke="#000" stroke-width="0.35" font-size="7.9" textLength="19.50" lengthAdjust="spacingAndGlyphs" fill="#000" clip-path="url(#fc22)">10:30</text>
<polygon points="689.6,431.7 696.5,431.7 696.5,443.3 689.6,443.3" fill="#ffffff" stroke="#000" stroke-width="0.95"/>
<line x1="689.6" y1="443.3" x2="689.6" y2="446.5" stroke="#000" stroke-width="0.95"/>
<clipPath id="fc23"><rect x="689.6" y="431.7" width="6.40" height="11.600000000000023"/></clipPath>
<text x="691.80" y="440.6" font-family="Liberation Sans, sans-serif" stroke="#000" stroke-width="0.35" font-size="7.9" textLength="4.15" lengthAdjust="spacingAndGlyphs" fill="#000" clip-path="url(#fc23)">1</text>
<polygon points="697.6,431.7 700.6,431.7 700.6,443.3 697.6,443.3" fill="#ffffff" stroke="#000" stroke-width="0.95"/>
<line x1="697.6" y1="443.3" x2="697.6" y2="446.5" stroke="#000" stroke-width="0.95"/>
<polygon points="700.8,431.7 721.9,431.7 725.6,437.5 721.9,443.3 700.8,443.3" fill="#ffffff" stroke="#000" stroke-width="0.95"/>
<line x1="700.8" y1="443.3" x2="700.8" y2="446.5" stroke="#000" stroke-width="0.95"/>
<clipPath id="fc25"><rect x="700.8" y="431.7" width="20.60" height="11.600000000000023"/></clipPath>
<text x="703.00" y="440.6" font-family="Liberation Sans, sans-serif" stroke="#000" stroke-width="0.35" font-size="7.9" textLength="18.80" lengthAdjust="spacingAndGlyphs" fill="#000" clip-path="url(#fc25)">16:00</text>
<polygon points="746.9,431.7 757.8,431.7 757.8,443.3 746.9,443.3" fill="#ffffff" stroke="#000" stroke-width="0.95"/>
<line x1="746.9" y1="443.3" x2="746.9" y2="446.5" stroke="#000" stroke-width="0.95"/>
<clipPath id="fc26"><rect x="746.9" y="431.7" width="10.40" height="11.600000000000023"/></clipPath>
<text x="749.10" y="440.6" font-family="Liberation Sans, sans-serif" stroke="#000" stroke-width="0.35" font-size="7.9" textLength="8.30" lengthAdjust="spacingAndGlyphs" fill="#000" clip-path="url(#fc26)">22</text>
<polygon points="758.1,431.7 779.2,431.7 782.9,437.5 779.2,443.3 758.1,443.3" fill="#ffffff" stroke="#000" stroke-width="0.95"/>
<line x1="758.1" y1="443.3" x2="758.1" y2="446.5" stroke="#000" stroke-width="0.95"/>
<clipPath id="fc27"><rect x="758.1" y="431.7" width="20.60" height="11.600000000000023"/></clipPath>
<text x="760.30" y="440.6" font-family="Liberation Sans, sans-serif" stroke="#000" stroke-width="0.35" font-size="7.9" textLength="18.80" lengthAdjust="spacingAndGlyphs" fill="#000" clip-path="url(#fc27)">01:01</text>
<polygon points="830.5,431.7 851.9,431.7 855.6,437.5 851.9,443.3 830.5,443.3" fill="#ffffff" stroke="#000" stroke-width="0.95"/>
<line x1="830.5" y1="443.3" x2="830.5" y2="446.5" stroke="#000" stroke-width="0.95"/>
<clipPath id="fc28"><rect x="830.5" y="431.7" width="20.90" height="11.600000000000023"/></clipPath>
<text x="832.70" y="440.6" font-family="Liberation Sans, sans-serif" stroke="#000" stroke-width="0.35" font-size="7.9" textLength="19.10" lengthAdjust="spacingAndGlyphs" fill="#000" clip-path="url(#fc28)">10:30</text>
<polygon points="870.5,431.7 883,431.7 883,443.3 870.5,443.3" fill="#ffffff" stroke="#000" stroke-width="0.95"/>
<line x1="870.5" y1="443.3" x2="870.5" y2="446.5" stroke="#000" stroke-width="0.95"/>
<clipPath id="fc29"><rect x="870.5" y="431.7" width="12.00" height="11.600000000000023"/></clipPath>
<text x="872.70" y="440.6" font-family="Liberation Sans, sans-serif" stroke="#000" stroke-width="0.35" font-size="7.9" textLength="8.30" lengthAdjust="spacingAndGlyphs" fill="#000" clip-path="url(#fc29)">15</text>
<polygon points="883.3,431.7 906,431.7 909.6,437.5 906,443.3 883.3,443.3" fill="#ffffff" stroke="#000" stroke-width="0.95"/>
<line x1="883.3" y1="443.3" x2="883.3" y2="446.5" stroke="#000" stroke-width="0.95"/>
<clipPath id="fc30"><rect x="883.3" y="431.7" width="22.20" height="11.600000000000023"/></clipPath>
<text x="885.50" y="440.6" font-family="Liberation Sans, sans-serif" stroke="#000" stroke-width="0.35" font-size="7.9" textLength="20.40" lengthAdjust="spacingAndGlyphs" fill="#000" clip-path="url(#fc30)">17:30</text>
<polygon points="940.4,431.7 962,431.7 962,443.3 940.4,443.3" fill="#ffffff" stroke="#000" stroke-width="0.95"/>
<line x1="940.4" y1="443.3" x2="940.4" y2="446.5" stroke="#000" stroke-width="0.95"/>
<clipPath id="fc31"><rect x="940.4" y="431.7" width="21.10" height="11.600000000000023"/></clipPath>
<text x="942.60" y="440.6" font-family="Liberation Sans, sans-serif" stroke="#000" stroke-width="0.35" font-size="7.9" textLength="15.15" lengthAdjust="spacingAndGlyphs" fill="#000" clip-path="url(#fc31)">01:0</text>
</g>
<rect x="2" y="446.3" width="957.2" height="4.0" fill="#c8c8c8"/>
<rect x="2" y="446.8" width="957.2" height="3.2" fill="#999999"/>
<rect x="2" y="446.8" width="957.2" height="1.1" fill="#555555"/>
<rect x="2" y="449.0" width="957.2" height="1.1" fill="#555555"/>
<line x1="2.4" y1="473.3" x2="958.6" y2="473.3" stroke="#c0c0c0" stroke-width="1" stroke-dasharray="3.8 3.8" stroke-dashoffset="0.6"/>
<g clip-path="url(#cs)">
<rect x="1.50" y="470.08" width="1.8" height="2.72" fill="#5a5a5a"/>
<rect x="5.30" y="467.94" width="1.8" height="4.86" fill="#5a5a5a"/>
<rect x="9.10" y="470.70" width="1.8" height="2.10" fill="#5a5a5a"/>
<rect x="12.90" y="471.58" width="1.8" height="1.22" fill="#5a5a5a"/>
<rect x="16.70" y="472.33" width="1.8" height="0.60" fill="#5a5a5a"/>
<rect x="20.50" y="472.58" width="1.8" height="0.60" fill="#5a5a5a"/>
<rect x="24.30" y="472.71" width="1.8" height="0.60" fill="#5a5a5a"/>
<rect x="28.10" y="472.80" width="1.8" height="0.60" fill="#5a5a5a"/>
<rect x="31.90" y="472.80" width="1.8" height="0.60" fill="#5a5a5a"/>
<rect x="35.70" y="472.80" width="1.8" height="1.29" fill="#5a5a5a"/>
<rect x="39.50" y="472.80" width="1.8" height="1.79" fill="#5a5a5a"/>
<rect x="43.30" y="472.80" width="1.8" height="2.04" fill="#5a5a5a"/>
<rect x="47.10" y="472.80" width="1.8" height="2.29" fill="#5a5a5a"/>
<rect x="50.90" y="472.80" width="1.8" height="2.29" fill="#5a5a5a"/>
<rect x="54.70" y="472.80" width="1.8" height="2.29" fill="#5a5a5a"/>
<rect x="58.50" y="472.80" width="1.8" height="2.29" fill="#5a5a5a"/>
<rect x="62.30" y="472.80" width="1.8" height="2.29" fill="#5a5a5a"/>
<rect x="66.10" y="472.80" width="1.8" height="2.54" fill="#5a5a5a"/>
<rect x="69.90" y="472.80" width="1.8" height="3.29" fill="#5a5a5a"/>
<rect x="73.70" y="472.80" width="1.8" height="5.42" fill="#5a5a5a"/>
<rect x="77.50" y="472.80" width="1.8" height="8.56" fill="#5a5a5a"/>
<rect x="81.30" y="472.80" width="1.8" height="11.07" fill="#5a5a5a"/>
<rect x="85.10" y="472.80" width="1.8" height="12.95" fill="#5a5a5a"/>
<rect x="88.90" y="472.80" width="1.8" height="14.20" fill="#5a5a5a"/>
<rect x="92.70" y="472.80" width="1.8" height="14.20" fill="#5a5a5a"/>
<rect x="96.50" y="472.80" width="1.8" height="12.95" fill="#5a5a5a"/>
<rect x="100.30" y="472.80" width="1.8" height="10.44" fill="#5a5a5a"/>
<rect x="104.10" y="472.80" width="1.8" height="9.19" fill="#5a5a5a"/>
<rect x="107.90" y="472.80" width="1.8" height="8.56" fill="#5a5a5a"/>
<rect x="111.70" y="472.80" width="1.8" height="4.80" fill="#5a5a5a"/>
<rect x="115.50" y="472.80" width="1.8" height="6.68" fill="#5a5a5a"/>
<rect x="119.30" y="472.80" width="1.8" height="9.19" fill="#5a5a5a"/>
<rect x="123.10" y="472.80" width="1.8" height="15.45" fill="#5a5a5a"/>
<rect x="126.90" y="472.80" width="1.8" height="22.29" fill="#5a5a5a"/>
<rect x="130.70" y="472.80" width="1.8" height="27.05" fill="#5a5a5a"/>
<rect x="134.50" y="472.80" width="1.8" height="31.69" fill="#5a5a5a"/>
<rect x="138.30" y="472.80" width="1.8" height="37.96" fill="#5a5a5a"/>
<rect x="142.10" y="472.80" width="1.8" height="43.85" fill="#5a5a5a"/>
<rect x="145.90" y="472.80" width="1.8" height="49.87" fill="#5a5a5a"/>
<rect x="149.70" y="472.80" width="1.8" height="50.88" fill="#5a5a5a"/>
<rect x="153.50" y="472.80" width="1.8" height="50.88" fill="#5a5a5a"/>
<rect x="157.30" y="472.80" width="1.8" height="49.87" fill="#5a5a5a"/>
<rect x="161.10" y="472.80" width="1.8" height="48.87" fill="#5a5a5a"/>
<rect x="164.90" y="472.80" width="1.8" height="48.87" fill="#5a5a5a"/>
<rect x="168.70" y="472.80" width="1.8" height="49.25" fill="#5a5a5a"/>
<rect x="172.50" y="472.80" width="1.8" height="49.25" fill="#5a5a5a"/>
<rect x="176.30" y="472.80" width="1.8" height="43.85" fill="#5a5a5a"/>
<rect x="180.10" y="472.80" width="1.8" height="40.85" fill="#5a5a5a"/>
<rect x="183.90" y="472.80" width="1.8" height="39.22" fill="#5a5a5a"/>
<rect x="187.70" y="472.80" width="1.8" height="36.08" fill="#5a5a5a"/>
<rect x="191.50" y="472.80" width="1.8" height="33.57" fill="#5a5a5a"/>
<rect x="195.30" y="472.80" width="1.8" height="32.32" fill="#5a5a5a"/>
<rect x="199.10" y="472.80" width="1.8" height="29.81" fill="#5a5a5a"/>
<rect x="202.90" y="472.80" width="1.8" height="27.93" fill="#5a5a5a"/>
<rect x="206.70" y="472.80" width="1.8" height="25.80" fill="#5a5a5a"/>
<rect x="210.50" y="472.80" width="1.8" height="22.92" fill="#5a5a5a"/>
<rect x="214.30" y="472.80" width="1.8" height="21.66" fill="#5a5a5a"/>
<rect x="218.10" y="472.80" width="1.8" height="19.16" fill="#5a5a5a"/>
<rect x="221.90" y="472.80" width="1.8" height="17.28" fill="#5a5a5a"/>
<rect x="225.70" y="472.80" width="1.8" height="15.39" fill="#5a5a5a"/>
<rect x="229.50" y="472.80" width="1.8" height="13.51" fill="#5a5a5a"/>
<rect x="233.30" y="472.80" width="1.8" height="10.38" fill="#5a5a5a"/>
<rect x="237.10" y="472.80" width="1.8" height="8.50" fill="#5a5a5a"/>
<rect x="240.90" y="472.80" width="1.8" height="6.01" fill="#5a5a5a"/>
<rect x="244.70" y="472.80" width="1.8" height="4.13" fill="#5a5a5a"/>
<rect x="248.50" y="472.80" width="1.8" height="3.25" fill="#5a5a5a"/>
<rect x="252.30" y="472.80" width="1.8" height="2.87" fill="#5a5a5a"/>
<rect x="256.10" y="472.80" width="1.8" height="2.25" fill="#5a5a5a"/>
<rect x="259.90" y="472.80" width="1.8" height="2.87" fill="#5a5a5a"/>
<rect x="263.70" y="472.80" width="1.8" height="4.13" fill="#5a5a5a"/>
<rect x="267.50" y="472.80" width="1.8" height="4.75" fill="#5a5a5a"/>
<rect x="271.30" y="472.80" width="1.8" height="5.00" fill="#5a5a5a"/>
<rect x="275.10" y="472.80" width="1.8" height="6.01" fill="#5a5a5a"/>
<rect x="278.90" y="472.80" width="1.8" height="7.89" fill="#5a5a5a"/>
<rect x="282.70" y="472.80" width="1.8" height="11.65" fill="#5a5a5a"/>
<rect x="286.50" y="472.80" width="1.8" height="14.16" fill="#5a5a5a"/>
<rect x="290.30" y="472.80" width="1.8" height="17.29" fill="#5a5a5a"/>
<rect x="294.10" y="472.80" width="1.8" height="20.05" fill="#5a5a5a"/>
<rect x="297.90" y="472.80" width="1.8" height="21.05" fill="#5a5a5a"/>
<rect x="301.70" y="472.80" width="1.8" height="20.05" fill="#5a5a5a"/>
<rect x="305.50" y="472.80" width="1.8" height="19.17" fill="#5a5a5a"/>
<rect x="309.30" y="472.80" width="1.8" height="19.17" fill="#5a5a5a"/>
<rect x="313.10" y="472.80" width="1.8" height="20.05" fill="#5a5a5a"/>
<rect x="316.90" y="472.80" width="1.8" height="21.05" fill="#5a5a5a"/>
<rect x="320.70" y="472.80" width="1.8" height="21.05" fill="#5a5a5a"/>
<rect x="324.50" y="472.80" width="1.8" height="28.57" fill="#5a5a5a"/>
<rect x="328.30" y="472.80" width="1.8" height="38.85" fill="#5a5a5a"/>
<rect x="332.10" y="472.80" width="1.8" height="43.62" fill="#5a5a5a"/>
<rect x="335.90" y="472.80" width="1.8" height="51.39" fill="#5a5a5a"/>
<rect x="339.70" y="472.80" width="1.8" height="54.28" fill="#5a5a5a"/>
<rect x="343.50" y="472.80" width="1.8" height="53.02" fill="#5a5a5a"/>
<rect x="347.30" y="472.80" width="1.8" height="54.28" fill="#5a5a5a"/>
<rect x="351.10" y="472.80" width="1.8" height="55.91" fill="#5a5a5a"/>
<rect x="354.90" y="472.80" width="1.8" height="55.91" fill="#5a5a5a"/>
<rect x="358.70" y="472.80" width="1.8" height="51.77" fill="#5a5a5a"/>
<rect x="362.50" y="472.80" width="1.8" height="51.14" fill="#5a5a5a"/>
<rect x="366.30" y="472.80" width="1.8" height="42.99" fill="#5a5a5a"/>
<rect x="370.10" y="472.80" width="1.8" height="37.35" fill="#5a5a5a"/>
<rect x="373.90" y="472.80" width="1.8" height="35.47" fill="#5a5a5a"/>
<rect x="377.70" y="472.80" width="1.8" height="32.34" fill="#5a5a5a"/>
<rect x="381.50" y="472.80" width="1.8" height="27.95" fill="#5a5a5a"/>
<rect x="385.30" y="472.80" width="1.8" height="24.81" fill="#5a5a5a"/>
<rect x="389.10" y="472.80" width="1.8" height="21.68" fill="#5a5a5a"/>
<rect x="392.90" y="472.80" width="1.8" height="20.42" fill="#5a5a5a"/>
<rect x="396.70" y="472.80" width="1.8" height="18.54" fill="#5a5a5a"/>
<rect x="400.50" y="472.80" width="1.8" height="17.29" fill="#5a5a5a"/>
<rect x="404.30" y="472.80" width="1.8" height="16.66" fill="#5a5a5a"/>
<rect x="408.10" y="472.80" width="1.8" height="16.66" fill="#5a5a5a"/>
<rect x="411.90" y="472.80" width="1.8" height="13.53" fill="#5a5a5a"/>
<rect x="415.70" y="472.80" width="1.8" height="10.39" fill="#5a5a5a"/>
<rect x="419.50" y="472.80" width="1.8" height="7.89" fill="#5a5a5a"/>
<rect x="423.30" y="472.80" width="1.8" height="6.01" fill="#5a5a5a"/>
<rect x="427.10" y="472.80" width="1.8" height="3.50" fill="#5a5a5a"/>
<rect x="430.90" y="472.80" width="1.8" height="1.62" fill="#5a5a5a"/>
<rect x="434.70" y="472.16" width="1.8" height="0.64" fill="#5a5a5a"/>
<rect x="438.50" y="470.66" width="1.8" height="2.14" fill="#5a5a5a"/>
<rect x="442.30" y="468.78" width="1.8" height="4.02" fill="#5a5a5a"/>
<rect x="446.10" y="466.90" width="1.8" height="5.90" fill="#5a5a5a"/>
<rect x="449.90" y="465.64" width="1.8" height="7.16" fill="#5a5a5a"/>
<rect x="453.70" y="465.02" width="1.8" height="7.78" fill="#5a5a5a"/>
<rect x="457.50" y="464.01" width="1.8" height="8.79" fill="#5a5a5a"/>
<rect x="461.30" y="470.66" width="1.8" height="2.14" fill="#5a5a5a"/>
<rect x="465.10" y="472.80" width="1.8" height="0.99" fill="#5a5a5a"/>
<rect x="468.90" y="472.80" width="1.8" height="9.14" fill="#5a5a5a"/>
<rect x="472.70" y="472.80" width="1.8" height="21.68" fill="#5a5a5a"/>
<rect x="476.50" y="472.80" width="1.8" height="28.57" fill="#5a5a5a"/>
<rect x="480.30" y="472.80" width="1.8" height="36.72" fill="#5a5a5a"/>
<rect x="484.10" y="472.80" width="1.8" height="42.37" fill="#5a5a5a"/>
<rect x="487.90" y="472.80" width="1.8" height="46.75" fill="#5a5a5a"/>
<rect x="491.70" y="472.80" width="1.8" height="47.38" fill="#5a5a5a"/>
<rect x="495.50" y="472.80" width="1.8" height="49.89" fill="#5a5a5a"/>
<rect x="499.30" y="472.80" width="1.8" height="52.40" fill="#5a5a5a"/>
<rect x="503.10" y="472.80" width="1.8" height="52.40" fill="#5a5a5a"/>
<rect x="506.90" y="472.80" width="1.8" height="55.91" fill="#5a5a5a"/>
<rect x="510.70" y="472.80" width="1.8" height="57.66" fill="#5a5a5a"/>
<rect x="514.50" y="472.80" width="1.8" height="54.90" fill="#5a5a5a"/>
<rect x="518.30" y="472.80" width="1.8" height="51.14" fill="#5a5a5a"/>
<rect x="522.10" y="472.80" width="1.8" height="46.75" fill="#5a5a5a"/>
<rect x="525.90" y="472.80" width="1.8" height="41.74" fill="#5a5a5a"/>
<rect x="529.70" y="472.80" width="1.8" height="36.10" fill="#5a5a5a"/>
<rect x="533.50" y="472.80" width="1.8" height="32.34" fill="#5a5a5a"/>
<rect x="537.30" y="472.80" width="1.8" height="29.83" fill="#5a5a5a"/>
<rect x="541.10" y="472.80" width="1.8" height="24.81" fill="#5a5a5a"/>
<rect x="544.90" y="472.80" width="1.8" height="21.68" fill="#5a5a5a"/>
<rect x="548.70" y="472.80" width="1.8" height="18.54" fill="#5a5a5a"/>
<rect x="552.50" y="472.80" width="1.8" height="17.92" fill="#5a5a5a"/>
<rect x="556.30" y="472.80" width="1.8" height="17.29" fill="#5a5a5a"/>
<rect x="560.10" y="472.80" width="1.8" height="16.04" fill="#5a5a5a"/>
<rect x="563.90" y="472.80" width="1.8" height="15.41" fill="#5a5a5a"/>
<rect x="567.70" y="472.80" width="1.8" height="14.16" fill="#5a5a5a"/>
<rect x="571.50" y="472.80" width="1.8" height="12.28" fill="#5a5a5a"/>
<rect x="575.30" y="472.80" width="1.8" height="10.77" fill="#5a5a5a"/>
<rect x="579.10" y="472.80" width="1.8" height="10.39" fill="#5a5a5a"/>
<rect x="582.90" y="472.80" width="1.8" height="7.89" fill="#5a5a5a"/>
<rect x="586.70" y="472.80" width="1.8" height="4.75" fill="#5a5a5a"/>
<rect x="590.50" y="472.80" width="1.8" height="2.25" fill="#5a5a5a"/>
<rect x="594.30" y="472.80" width="1.8" height="3.50" fill="#5a5a5a"/>
<rect x="598.10" y="472.80" width="1.8" height="1.99" fill="#5a5a5a"/>
<rect x="601.90" y="472.80" width="1.8" height="4.13" fill="#5a5a5a"/>
<rect x="605.70" y="472.80" width="1.8" height="5.38" fill="#5a5a5a"/>
<rect x="609.50" y="472.80" width="1.8" height="7.26" fill="#5a5a5a"/>
<rect x="613.30" y="472.80" width="1.8" height="9.77" fill="#5a5a5a"/>
<rect x="617.10" y="472.80" width="1.8" height="11.65" fill="#5a5a5a"/>
<rect x="620.90" y="472.80" width="1.8" height="12.28" fill="#5a5a5a"/>
<rect x="624.70" y="472.80" width="1.8" height="16.04" fill="#5a5a5a"/>
<rect x="628.50" y="472.80" width="1.8" height="17.92" fill="#5a5a5a"/>
<rect x="632.30" y="472.80" width="1.8" height="17.92" fill="#5a5a5a"/>
<rect x="636.10" y="472.80" width="1.8" height="17.29" fill="#5a5a5a"/>
<rect x="639.90" y="472.80" width="1.8" height="15.41" fill="#5a5a5a"/>
<rect x="643.70" y="472.80" width="1.8" height="17.29" fill="#5a5a5a"/>
<rect x="647.50" y="472.80" width="1.8" height="17.29" fill="#5a5a5a"/>
<rect x="651.30" y="472.80" width="1.8" height="17.92" fill="#5a5a5a"/>
<rect x="655.10" y="472.80" width="1.8" height="17.92" fill="#5a5a5a"/>
<rect x="658.90" y="472.80" width="1.8" height="30.45" fill="#5a5a5a"/>
<rect x="662.70" y="472.80" width="1.8" height="41.74" fill="#5a5a5a"/>
<rect x="666.50" y="472.80" width="1.8" height="51.39" fill="#5a5a5a"/>
<rect x="670.30" y="472.80" width="1.8" height="56.78" fill="#5a5a5a"/>
<rect x="674.10" y="472.80" width="1.8" height="59.98" fill="#5a5a5a"/>
<rect x="677.90" y="472.80" width="1.8" height="61.86" fill="#5a5a5a"/>
<rect x="681.70" y="472.80" width="1.8" height="66.62" fill="#5a5a5a"/>
<rect x="685.50" y="472.80" width="1.8" height="71.89" fill="#5a5a5a"/>
<rect x="689.30" y="472.80" width="1.8" height="66.62" fill="#5a5a5a"/>
<rect x="693.10" y="472.80" width="1.8" height="64.99" fill="#5a5a5a"/>
<rect x="696.90" y="472.80" width="1.8" height="60.85" fill="#5a5a5a"/>
<rect x="700.70" y="472.80" width="1.8" height="54.96" fill="#5a5a5a"/>
<rect x="704.50" y="472.80" width="1.8" height="51.20" fill="#5a5a5a"/>
<rect x="708.30" y="472.80" width="1.8" height="50.57" fill="#5a5a5a"/>
<rect x="712.10" y="472.80" width="1.8" height="49.32" fill="#5a5a5a"/>
<rect x="715.90" y="472.80" width="1.8" height="48.69" fill="#5a5a5a"/>
<rect x="719.70" y="472.80" width="1.8" height="46.19" fill="#5a5a5a"/>
<rect x="723.50" y="472.80" width="1.8" height="42.05" fill="#5a5a5a"/>
<rect x="727.30" y="472.80" width="1.8" height="39.92" fill="#5a5a5a"/>
<rect x="731.10" y="472.80" width="1.8" height="38.04" fill="#5a5a5a"/>
<rect x="734.90" y="472.80" width="1.8" height="37.03" fill="#5a5a5a"/>
<rect x="738.70" y="472.80" width="1.8" height="38.04" fill="#5a5a5a"/>
<rect x="742.50" y="472.80" width="1.8" height="40.54" fill="#5a5a5a"/>
<rect x="746.30" y="472.80" width="1.8" height="41.17" fill="#5a5a5a"/>
<rect x="750.10" y="472.80" width="1.8" height="42.05" fill="#5a5a5a"/>
<rect x="753.90" y="472.80" width="1.8" height="43.05" fill="#5a5a5a"/>
<rect x="757.70" y="472.80" width="1.8" height="39.92" fill="#5a5a5a"/>
<rect x="761.50" y="472.80" width="1.8" height="38.04" fill="#5a5a5a"/>
<rect x="765.30" y="472.80" width="1.8" height="34.28" fill="#5a5a5a"/>
<rect x="769.10" y="472.80" width="1.8" height="31.77" fill="#5a5a5a"/>
<rect x="772.90" y="472.80" width="1.8" height="28.01" fill="#5a5a5a"/>
<rect x="776.70" y="472.80" width="1.8" height="26.75" fill="#5a5a5a"/>
<rect x="780.50" y="472.80" width="1.8" height="24.87" fill="#5a5a5a"/>
<rect x="784.30" y="472.80" width="1.8" height="24.83" fill="#5a5a5a"/>
<rect x="788.10" y="472.80" width="1.8" height="21.69" fill="#5a5a5a"/>
<rect x="791.90" y="472.80" width="1.8" height="19.81" fill="#5a5a5a"/>
<rect x="795.70" y="472.80" width="1.8" height="19.19" fill="#5a5a5a"/>
<path d="M2.50,459.40 L11.30,463.80 L21.30,468.10 L32.00,473.10 L42.60,475.30 L74.00,475.30 L87.80,480.10 L102.80,485.10 L112.80,485.10 L125.00,484.00 L133.80,487.80 L141.30,493.20 L147.60,502.00 L155.10,510.10 L162.60,517.00 L168.90,521.20 L176.40,522.40 L182.70,520.40 L195.20,515.40 L207.80,507.60 L215.30,502.60 L227.80,496.10 L240.00,489.20 L243.80,487.60 L251.30,482.80 L260.00,479.40 L266.30,477.60 L278.90,477.60 L287.70,480.10 L297.70,485.10 L307.70,489.50 L317.70,493.20 L327.80,495.70 L334.00,500.10 L341.60,507.60 L350.30,516.40 L356.30,523.30 L360.00,525.20 L362.50,526.20 L366.30,525.80 L375.10,521.40 L381.30,517.70 L387.60,511.40 L397.60,501.40 L406.40,495.70 L415.20,490.70 L424.00,487.30 L431.50,483.80 L440.30,478.20 L450.30,472.50 L457.80,469.40 L464.10,468.50 L469.10,469.80 L475.00,473.50 L477.50,476.30 L483.80,485.10 L491.30,496.40 L498.90,508.30 L506.40,517.00 L512.60,523.30 L518.90,525.80 L525.20,525.20 L532.70,522.10 L540.20,516.40 L546.50,510.20 L551.50,503.90 L559.00,497.60 L569.10,490.70 L579.10,487.30 L586.30,486.10 L590.00,484.40 L593.80,482.60 L601.30,479.40 L611.30,478.60 L621.40,479.80 L630.20,483.80 L638.90,487.60 L645.20,489.50 L652.70,490.10 L659.00,492.30 L667.80,498.90 L675.30,508.90 L684.10,520.20 L692.60,532.80 L700.10,536.50 L707.60,534.70 L715.20,531.50 L723.90,524.60 L732.70,518.60 L741.50,515.20 L750.30,513.30 L760.30,513.10 L770.30,512.10 L777.90,509.00 L785.00,505.20 L795.80,499.10" fill="none" stroke="#ff0000" stroke-width="0.95" stroke-linejoin="round"/>
</g>
<line x1="2.4" y1="2" x2="2.4" y2="554.8" stroke="#000" stroke-width="1"/>
<line x1="1.9" y1="2.5" x2="959.1" y2="2.5" stroke="#000" stroke-width="1"/>
<line x1="958.6" y1="2" x2="958.6" y2="447" stroke="#000" stroke-width="1"/>
<line x1="958.6" y1="449.2" x2="958.6" y2="554.8" stroke="#000" stroke-width="1"/>
<line x1="1.9" y1="554.3" x2="959.1" y2="554.3" stroke="#000" stroke-width="1"/>
<line x1="958.6" y1="3.5" x2="961.8" y2="3.5" stroke="#000" stroke-width="1"/>
<text x="964.7" y="6.70" font-family="Liberation Sans, sans-serif" stroke="#000" stroke-width="0.35" font-size="8.1" textLength="23.0" lengthAdjust="spacingAndGlyphs" fill="#000">1.7010</text>
<line x1="958.6" y1="65.6" x2="961.8" y2="65.6" stroke="#000" stroke-width="1"/>
<text x="964.7" y="68.80" font-family="Liberation Sans, sans-serif" stroke="#000" stroke-width="0.35" font-size="8.1" textLength="23.0" lengthAdjust="spacingAndGlyphs" fill="#000">1.6980</text>
<line x1="958.6" y1="98.3" x2="961.8" y2="98.3" stroke="#000" stroke-width="1"/>
<text x="964.7" y="101.50" font-family="Liberation Sans, sans-serif" stroke="#000" stroke-width="0.35" font-size="8.1" textLength="23.0" lengthAdjust="spacingAndGlyphs" fill="#000">1.6965</text>
<line x1="958.6" y1="129.3" x2="961.8" y2="129.3" stroke="#000" stroke-width="1"/>
<text x="964.7" y="132.50" font-family="Liberation Sans, sans-serif" stroke="#000" stroke-width="0.35" font-size="8.1" textLength="23.0" lengthAdjust="spacingAndGlyphs" fill="#000">1.6950</text>
<line x1="958.6" y1="161.9" x2="961.8" y2="161.9" stroke="#000" stroke-width="1"/>
<text x="964.7" y="165.10" font-family="Liberation Sans, sans-serif" stroke="#000" stroke-width="0.35" font-size="8.1" textLength="23.0" lengthAdjust="spacingAndGlyphs" fill="#000">1.6935</text>
<line x1="958.6" y1="193.3" x2="961.8" y2="193.3" stroke="#000" stroke-width="1"/>
<text x="964.7" y="196.50" font-family="Liberation Sans, sans-serif" stroke="#000" stroke-width="0.35" font-size="8.1" textLength="23.0" lengthAdjust="spacingAndGlyphs" fill="#000">1.6920</text>
<line x1="958.6" y1="225.4" x2="961.8" y2="225.4" stroke="#000" stroke-width="1"/>
<text x="964.7" y="228.60" font-family="Liberation Sans, sans-serif" stroke="#000" stroke-width="0.35" font-size="8.1" textLength="23.0" lengthAdjust="spacingAndGlyphs" fill="#000">1.6905</text>
<line x1="958.6" y1="256.7" x2="961.8" y2="256.7" stroke="#000" stroke-width="1"/>
<text x="964.7" y="259.90" font-family="Liberation Sans, sans-serif" stroke="#000" stroke-width="0.35" font-size="8.1" textLength="23.0" lengthAdjust="spacingAndGlyphs" fill="#000">1.6890</text>
<line x1="958.6" y1="288.4" x2="961.8" y2="288.4" stroke="#000" stroke-width="1"/>
<text x="964.7" y="291.60" font-family="Liberation Sans, sans-serif" stroke="#000" stroke-width="0.35" font-size="8.1" textLength="23.0" lengthAdjust="spacingAndGlyphs" fill="#000">1.6875</text>
<line x1="958.6" y1="320.1" x2="961.8" y2="320.1" stroke="#000" stroke-width="1"/>
<text x="964.7" y="323.30" font-family="Liberation Sans, sans-serif" stroke="#000" stroke-width="0.35" font-size="8.1" textLength="23.0" lengthAdjust="spacingAndGlyphs" fill="#000">1.6860</text>
<line x1="958.6" y1="351.8" x2="961.8" y2="351.8" stroke="#000" stroke-width="1"/>
<text x="964.7" y="355.00" font-family="Liberation Sans, sans-serif" stroke="#000" stroke-width="0.35" font-size="8.1" textLength="23.0" lengthAdjust="spacingAndGlyphs" fill="#000">1.6845</text>
<line x1="958.6" y1="384" x2="961.8" y2="384" stroke="#000" stroke-width="1"/>
<text x="964.7" y="387.20" font-family="Liberation Sans, sans-serif" stroke="#000" stroke-width="0.35" font-size="8.1" textLength="23.0" lengthAdjust="spacingAndGlyphs" fill="#000">1.6830</text>
<line x1="958.6" y1="415.1" x2="961.8" y2="415.1" stroke="#000" stroke-width="1"/>
<text x="964.7" y="418.30" font-family="Liberation Sans, sans-serif" stroke="#000" stroke-width="0.35" font-size="8.1" textLength="23.0" lengthAdjust="spacingAndGlyphs" fill="#000">1.6815</text>
<rect x="961" y="389.60" width="30.00" height="10.2" fill="#c0c0c0"/>
<text x="964.7" y="397.50" font-family="Liberation Sans, sans-serif" stroke="#fff" stroke-width="0.35" font-size="8.1" textLength="24.09999999999991" lengthAdjust="spacingAndGlyphs" fill="#fff">1.6825</text>
<rect x="961" y="19.30" width="29.60" height="10.2" fill="#ff0000"/>
<text x="964.7" y="27.20" font-family="Liberation Sans, sans-serif" stroke="#fff" stroke-width="0.35" font-size="8.1" textLength="23.699999999999932" lengthAdjust="spacingAndGlyphs" fill="#fff">1.7000</text>
<rect x="961" y="29.40" width="29.60" height="10.2" fill="#ff0000"/>
<text x="964.7" y="37.30" font-family="Liberation Sans, sans-serif" stroke="#fff" stroke-width="0.35" font-size="8.1" textLength="23.699999999999932" lengthAdjust="spacingAndGlyphs" fill="#fff">1.6995</text>
<rect x="961" y="113.30" width="30.30" height="10.2" fill="#ff0000"/>
<text x="964.7" y="121.20" font-family="Liberation Sans, sans-serif" stroke="#fff" stroke-width="0.35" font-size="8.1" textLength="24.399999999999864" lengthAdjust="spacingAndGlyphs" fill="#fff">1.6955</text>
<rect x="961" y="169.20" width="29.60" height="10.2" fill="#ff0000"/>
<text x="964.7" y="177.10" font-family="Liberation Sans, sans-serif" stroke="#fff" stroke-width="0.35" font-size="8.1" textLength="23.699999999999932" lengthAdjust="spacingAndGlyphs" fill="#fff">1.6929</text>
<rect x="961" y="246.40" width="29.30" height="10.2" fill="#ff0000"/>
<text x="964.7" y="254.30" font-family="Liberation Sans, sans-serif" stroke="#fff" stroke-width="0.35" font-size="8.1" textLength="23.399999999999864" lengthAdjust="spacingAndGlyphs" fill="#fff">1.6892</text>
<rect x="961" y="315.50" width="28.70" height="10.2" fill="#ff0000"/>
<text x="964.7" y="323.40" font-family="Liberation Sans, sans-serif" stroke="#fff" stroke-width="0.35" font-size="8.1" textLength="22.799999999999955" lengthAdjust="spacingAndGlyphs" fill="#fff">1.6860</text>
<rect x="961" y="416.30" width="30.30" height="10.2" fill="#ff0000"/>
<text x="964.7" y="424.20" font-family="Liberation Sans, sans-serif" stroke="#fff" stroke-width="0.35" font-size="8.1" textLength="24.399999999999864" lengthAdjust="spacingAndGlyphs" fill="#fff">1.6812</text>
<line x1="958.6" y1="449.9" x2="961.8" y2="449.9" stroke="#000" stroke-width="1"/>
<line x1="958.6" y1="473.3" x2="961.8" y2="473.3" stroke="#c0c0c0" stroke-width="1"/>
<line x1="958.6" y1="554.1" x2="961.8" y2="554.1" stroke="#000" stroke-width="1"/>
<text x="963.8" y="456.90" font-family="Liberation Sans, sans-serif" stroke="#000" stroke-width="0.35" font-size="8.1" textLength="27.0" lengthAdjust="spacingAndGlyphs" fill="#000">0.00051</text>
<text x="963.8" y="475.70" font-family="Liberation Sans, sans-serif" stroke="#000" stroke-width="0.35" font-size="8.1" textLength="27.0" lengthAdjust="spacingAndGlyphs" fill="#000">0.00000</text>
<text x="964.0" y="552.30" font-family="Liberation Sans, sans-serif" stroke="#000" stroke-width="0.35" font-size="8.3" textLength="29.5" lengthAdjust="spacingAndGlyphs" fill="#000">-0.00171</text>
<line x1="2.40" y1="554.3" x2="2.40" y2="557.8" stroke="#000" stroke-width="1"/>
<text x="1.90" y="566.5" font-family="Liberation Sans, sans-serif" stroke="#000" stroke-width="0.35" font-size="8.3" textLength="43.4" lengthAdjust="spacingAndGlyphs" fill="#000">28 Jul 2014</text>
<line x1="63.20" y1="554.3" x2="63.20" y2="557.8" stroke="#000" stroke-width="1"/>
<text x="62.70" y="566.5" font-family="Liberation Sans, sans-serif" stroke="#000" stroke-width="0.35" font-size="8.3" textLength="44.6" lengthAdjust="spacingAndGlyphs" fill="#000">29 Jul 04:00</text>
<line x1="124.00" y1="554.3" x2="124.00" y2="557.8" stroke="#000" stroke-width="1"/>
<text x="123.50" y="566.5" font-family="Liberation Sans, sans-serif" stroke="#000" stroke-width="0.35" font-size="8.3" textLength="44.6" lengthAdjust="spacingAndGlyphs" fill="#000">29 Jul 12:00</text>
<line x1="184.80" y1="554.3" x2="184.80" y2="557.8" stroke="#000" stroke-width="1"/>
<text x="184.30" y="566.5" font-family="Liberation Sans, sans-serif" stroke="#000" stroke-width="0.35" font-size="8.3" textLength="44.6" lengthAdjust="spacingAndGlyphs" fill="#000">29 Jul 20:00</text>
<line x1="245.60" y1="554.3" x2="245.60" y2="557.8" stroke="#000" stroke-width="1"/>
<text x="245.10" y="566.5" font-family="Liberation Sans, sans-serif" stroke="#000" stroke-width="0.35" font-size="8.3" textLength="44.6" lengthAdjust="spacingAndGlyphs" fill="#000">30 Jul 04:00</text>
<line x1="306.40" y1="554.3" x2="306.40" y2="557.8" stroke="#000" stroke-width="1"/>
<text x="305.90" y="566.5" font-family="Liberation Sans, sans-serif" stroke="#000" stroke-width="0.35" font-size="8.3" textLength="44.6" lengthAdjust="spacingAndGlyphs" fill="#000">30 Jul 12:00</text>
<line x1="367.20" y1="554.3" x2="367.20" y2="557.8" stroke="#000" stroke-width="1"/>
<text x="366.70" y="566.5" font-family="Liberation Sans, sans-serif" stroke="#000" stroke-width="0.35" font-size="8.3" textLength="44.6" lengthAdjust="spacingAndGlyphs" fill="#000">30 Jul 20:00</text>
<line x1="428.00" y1="554.3" x2="428.00" y2="557.8" stroke="#000" stroke-width="1"/>
<text x="427.50" y="566.5" font-family="Liberation Sans, sans-serif" stroke="#000" stroke-width="0.35" font-size="8.3" textLength="44.6" lengthAdjust="spacingAndGlyphs" fill="#000">31 Jul 04:00</text>
<line x1="488.80" y1="554.3" x2="488.80" y2="557.8" stroke="#000" stroke-width="1"/>
<text x="488.30" y="566.5" font-family="Liberation Sans, sans-serif" stroke="#000" stroke-width="0.35" font-size="8.3" textLength="44.6" lengthAdjust="spacingAndGlyphs" fill="#000">31 Jul 12:00</text>
<line x1="549.60" y1="554.3" x2="549.60" y2="557.8" stroke="#000" stroke-width="1"/>
<text x="549.10" y="566.5" font-family="Liberation Sans, sans-serif" stroke="#000" stroke-width="0.35" font-size="8.3" textLength="44.6" lengthAdjust="spacingAndGlyphs" fill="#000">31 Jul 20:00</text>
<line x1="610.40" y1="554.3" x2="610.40" y2="557.8" stroke="#000" stroke-width="1"/>
<text x="609.90" y="566.5" font-family="Liberation Sans, sans-serif" stroke="#000" stroke-width="0.35" font-size="8.3" textLength="43.6" lengthAdjust="spacingAndGlyphs" fill="#000">1 Aug 04:00</text>
<line x1="671.20" y1="554.3" x2="671.20" y2="557.8" stroke="#000" stroke-width="1"/>
<text x="670.70" y="566.5" font-family="Liberation Sans, sans-serif" stroke="#000" stroke-width="0.35" font-size="8.3" textLength="43.6" lengthAdjust="spacingAndGlyphs" fill="#000">1 Aug 12:00</text>
<line x1="732.00" y1="554.3" x2="732.00" y2="557.8" stroke="#000" stroke-width="1"/>
<text x="731.50" y="566.5" font-family="Liberation Sans, sans-serif" stroke="#000" stroke-width="0.35" font-size="8.3" textLength="43.6" lengthAdjust="spacingAndGlyphs" fill="#000">1 Aug 20:00</text>
<line x1="792.80" y1="554.3" x2="792.80" y2="557.8" stroke="#000" stroke-width="1"/>
<text x="792.30" y="566.5" font-family="Liberation Sans, sans-serif" stroke="#000" stroke-width="0.35" font-size="8.3" textLength="43.6" lengthAdjust="spacingAndGlyphs" fill="#000">4 Aug 05:30</text>
<text x="16.9" y="12.6" font-family="Liberation Sans, sans-serif" stroke="#000" stroke-width="0.35" font-size="8.3" textLength="50.6" lengthAdjust="spacingAndGlyphs" fill="#000">GBPUSD,M30</text>
<text x="6.2" y="461.1" font-family="Liberation Sans, sans-serif" stroke="#000" stroke-width="0.35" font-size="8.3" textLength="122" lengthAdjust="spacingAndGlyphs" fill="#000">MACD(12,26,9) -0.00039 -0.00054</text>
<text x="5.5" y="550.2" font-family="Liberation Sans, sans-serif" stroke="#000" stroke-width="0.35" font-size="8.3" textLength="218.5" lengthAdjust="spacingAndGlyphs" fill="#000">MetaTrader 5, © 2001-2014, MetaQuotes Software Corp.</text>
</svg>
</body></html>
